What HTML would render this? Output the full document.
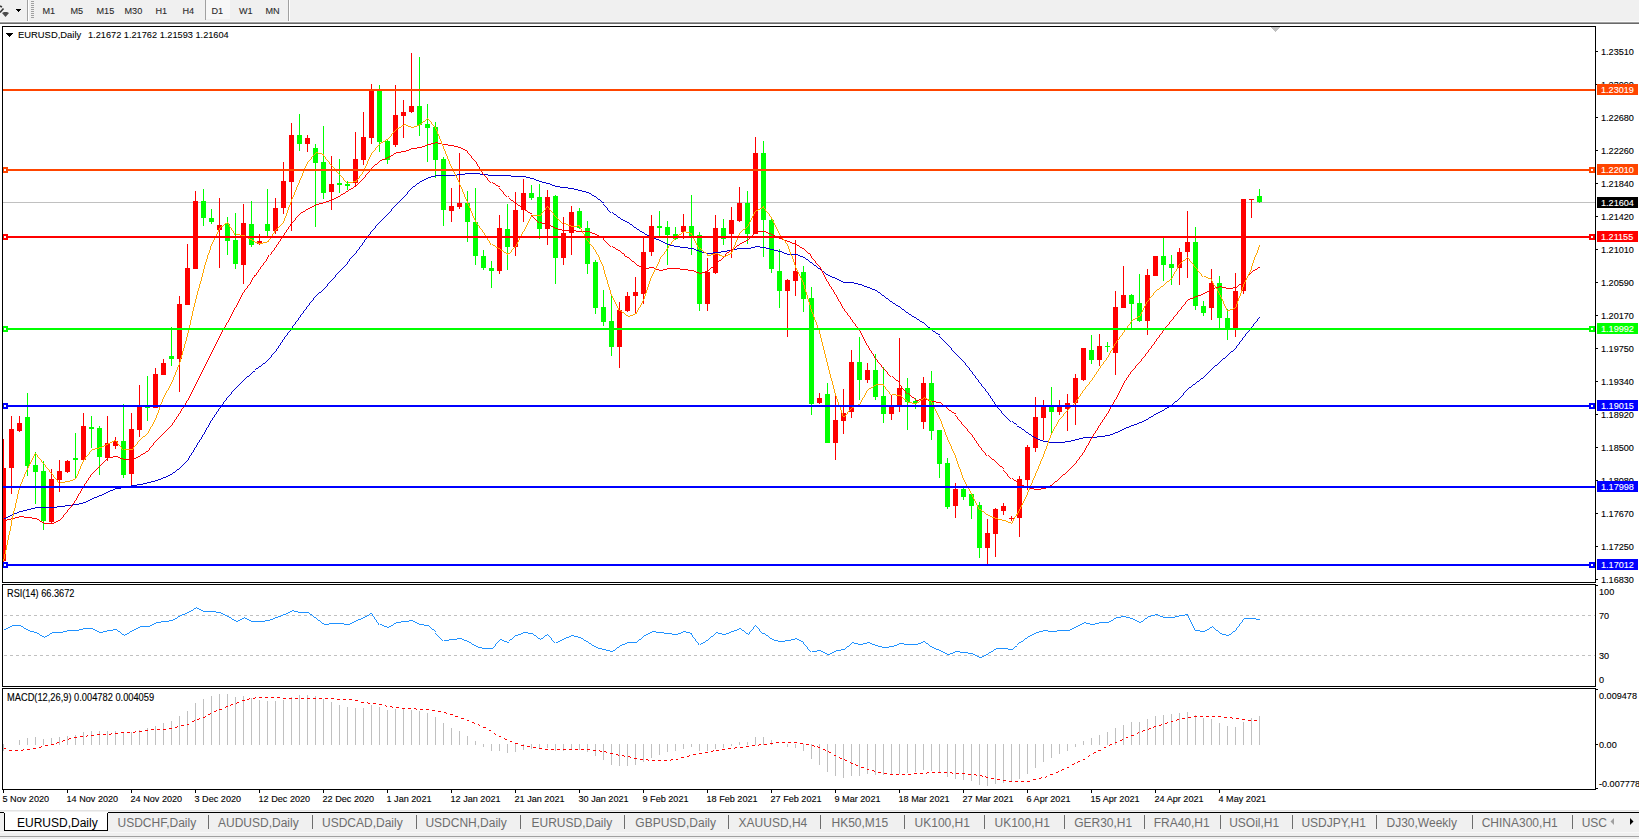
<!DOCTYPE html>
<html><head><meta charset="utf-8"><style>
html,body{margin:0;padding:0;width:1639px;height:839px;overflow:hidden;background:#fff}
svg{display:block;font-family:"Liberation Sans",sans-serif}
</style></head><body>
<svg width="1639" height="839" viewBox="0 0 1639 839" shape-rendering="crispEdges">
<rect x="0" y="0" width="1639" height="21" fill="#f0f0f0"/>
<rect x="0" y="21" width="1639" height="1" fill="#fafafa"/>
<rect x="0" y="22" width="1639" height="1" fill="#a0a0a0"/>
<rect x="0" y="23" width="1639" height="1" fill="#696969"/>
<rect x="0" y="24" width="1639" height="2" fill="#ffffff"/>
<path d="M0 6 L2 7 M3.5 8.5 L0 12.5" stroke="#3a3a3a" stroke-width="1.6" fill="none" shape-rendering="auto"/>
<path d="M2 13 L4 12 L7 12 L9 13 L5.5 17 Z" fill="#4a4a4a" shape-rendering="auto"/>
<path d="M16 9 L21 9 L18.5 12 Z" fill="#000"/>
<rect x="27" y="0" width="1" height="21" fill="#a0a0a0"/>
<rect x="28" y="0" width="1" height="21" fill="#ffffff"/>
<rect x="31" y="1" width="3" height="1" fill="#a0a0a0"/>
<rect x="31" y="3" width="3" height="1" fill="#a0a0a0"/>
<rect x="31" y="5" width="3" height="1" fill="#a0a0a0"/>
<rect x="31" y="7" width="3" height="1" fill="#a0a0a0"/>
<rect x="31" y="9" width="3" height="1" fill="#a0a0a0"/>
<rect x="31" y="11" width="3" height="1" fill="#a0a0a0"/>
<rect x="31" y="13" width="3" height="1" fill="#a0a0a0"/>
<rect x="31" y="15" width="3" height="1" fill="#a0a0a0"/>
<rect x="31" y="17" width="3" height="1" fill="#a0a0a0"/>
<rect x="206" y="0" width="24" height="19" fill="#f7f7f7"/>
<rect x="205" y="0" width="1" height="20" fill="#a0a0a0"/>
<rect x="288" y="0" width="1" height="21" fill="#a0a0a0"/>
<rect x="289" y="0" width="1" height="21" fill="#ffffff"/>
<text transform="translate(42.5 14) scale(0.93 1)" font-size="9.8" fill="#2a2a2a" stroke="#2a2a2a" stroke-width="0.1">M1</text>
<text transform="translate(70.5 14) scale(0.93 1)" font-size="9.8" fill="#2a2a2a" stroke="#2a2a2a" stroke-width="0.1">M5</text>
<text transform="translate(96.5 14) scale(0.93 1)" font-size="9.8" fill="#2a2a2a" stroke="#2a2a2a" stroke-width="0.1">M15</text>
<text transform="translate(124.5 14) scale(0.93 1)" font-size="9.8" fill="#2a2a2a" stroke="#2a2a2a" stroke-width="0.1">M30</text>
<text transform="translate(155.5 14) scale(0.93 1)" font-size="9.8" fill="#2a2a2a" stroke="#2a2a2a" stroke-width="0.1">H1</text>
<text transform="translate(182.5 14) scale(0.93 1)" font-size="9.8" fill="#2a2a2a" stroke="#2a2a2a" stroke-width="0.1">H4</text>
<text transform="translate(211.5 14) scale(0.93 1)" font-size="9.8" fill="#2a2a2a" stroke="#2a2a2a" stroke-width="0.1">D1</text>
<text transform="translate(239 14) scale(0.93 1)" font-size="9.8" fill="#2a2a2a" stroke="#2a2a2a" stroke-width="0.1">W1</text>
<text transform="translate(265.5 14) scale(0.93 1)" font-size="9.8" fill="#2a2a2a" stroke="#2a2a2a" stroke-width="0.1">MN</text>
<rect x="0" y="26" width="1639" height="785" fill="#ffffff"/>
<rect x="2" y="26" width="1594" height="1" fill="#000"/>
<rect x="2" y="26" width="1" height="557" fill="#000"/>
<rect x="1595" y="26" width="1" height="557" fill="#000"/>
<rect x="2" y="582" width="1594" height="1" fill="#000"/>
<rect x="2" y="584" width="1594" height="1" fill="#000"/>
<rect x="2" y="584" width="1" height="103" fill="#000"/>
<rect x="1595" y="584" width="1" height="103" fill="#000"/>
<rect x="2" y="686" width="1594" height="1" fill="#000"/>
<rect x="2" y="688" width="1594" height="1" fill="#000"/>
<rect x="2" y="688" width="1" height="102" fill="#000"/>
<rect x="1595" y="688" width="1" height="102" fill="#000"/>
<rect x="2" y="789" width="1594" height="1" fill="#000"/>
<path d="M1271 27 L1280 27 L1275.5 32 Z" fill="#c0c0c0"/>
<clipPath id="cm"><rect x="3" y="27" width="1592" height="555"/></clipPath>
<g clip-path="url(#cm)">
<rect x="3" y="202" width="1592" height="1" fill="#c0c0c0"/>
<rect x="3" y="439" width="1" height="124" fill="#ff0000"/>
<rect x="1" y="468" width="5" height="93" fill="#ff0000"/>
<rect x="11" y="416" width="1" height="78" fill="#ff0000"/>
<rect x="9" y="429" width="5" height="39" fill="#ff0000"/>
<rect x="19" y="416" width="1" height="16" fill="#ff0000"/>
<rect x="17" y="423" width="5" height="8" fill="#ff0000"/>
<rect x="27" y="393" width="1" height="83" fill="#00ff00"/>
<rect x="25" y="417" width="5" height="49" fill="#00ff00"/>
<rect x="35" y="452" width="1" height="52" fill="#00ff00"/>
<rect x="33" y="465" width="5" height="7" fill="#00ff00"/>
<rect x="43" y="461" width="1" height="69" fill="#00ff00"/>
<rect x="41" y="471" width="5" height="50" fill="#00ff00"/>
<rect x="51" y="469" width="1" height="54" fill="#ff0000"/>
<rect x="49" y="479" width="5" height="43" fill="#ff0000"/>
<rect x="59" y="460" width="1" height="32" fill="#ff0000"/>
<rect x="57" y="471" width="5" height="9" fill="#ff0000"/>
<rect x="67" y="460" width="1" height="13" fill="#ff0000"/>
<rect x="65" y="461" width="5" height="11" fill="#ff0000"/>
<rect x="75" y="433" width="1" height="45" fill="#00ff00"/>
<rect x="73" y="458" width="5" height="2" fill="#00ff00"/>
<rect x="83" y="413" width="1" height="47" fill="#ff0000"/>
<rect x="81" y="426" width="5" height="34" fill="#ff0000"/>
<rect x="91" y="416" width="1" height="32" fill="#00ff00"/>
<rect x="89" y="427" width="5" height="2" fill="#00ff00"/>
<rect x="99" y="426" width="1" height="49" fill="#00ff00"/>
<rect x="97" y="428" width="5" height="29" fill="#00ff00"/>
<rect x="107" y="416" width="1" height="45" fill="#ff0000"/>
<rect x="105" y="443" width="5" height="15" fill="#ff0000"/>
<rect x="115" y="437" width="1" height="12" fill="#ff0000"/>
<rect x="113" y="441" width="5" height="5" fill="#ff0000"/>
<rect x="123" y="404" width="1" height="74" fill="#00ff00"/>
<rect x="121" y="441" width="5" height="34" fill="#00ff00"/>
<rect x="131" y="413" width="1" height="72" fill="#ff0000"/>
<rect x="129" y="429" width="5" height="45" fill="#ff0000"/>
<rect x="139" y="385" width="1" height="52" fill="#ff0000"/>
<rect x="137" y="406" width="5" height="24" fill="#ff0000"/>
<rect x="147" y="376" width="1" height="45" fill="#00ff00"/>
<rect x="145" y="406" width="5" height="2" fill="#00ff00"/>
<rect x="155" y="368" width="1" height="40" fill="#ff0000"/>
<rect x="153" y="374" width="5" height="34" fill="#ff0000"/>
<rect x="163" y="359" width="1" height="16" fill="#ff0000"/>
<rect x="161" y="363" width="5" height="12" fill="#ff0000"/>
<rect x="171" y="327" width="1" height="39" fill="#00ff00"/>
<rect x="169" y="356" width="5" height="3" fill="#00ff00"/>
<rect x="179" y="296" width="1" height="96" fill="#ff0000"/>
<rect x="177" y="304" width="5" height="55" fill="#ff0000"/>
<rect x="187" y="244" width="1" height="61" fill="#ff0000"/>
<rect x="185" y="268" width="5" height="37" fill="#ff0000"/>
<rect x="195" y="191" width="1" height="78" fill="#ff0000"/>
<rect x="193" y="201" width="5" height="68" fill="#ff0000"/>
<rect x="203" y="189" width="1" height="37" fill="#00ff00"/>
<rect x="201" y="201" width="5" height="17" fill="#00ff00"/>
<rect x="211" y="209" width="1" height="15" fill="#00ff00"/>
<rect x="209" y="218" width="5" height="4" fill="#00ff00"/>
<rect x="219" y="198" width="1" height="70" fill="#ff0000"/>
<rect x="217" y="225" width="5" height="5" fill="#ff0000"/>
<rect x="227" y="217" width="1" height="38" fill="#00ff00"/>
<rect x="225" y="224" width="5" height="17" fill="#00ff00"/>
<rect x="235" y="213" width="1" height="56" fill="#00ff00"/>
<rect x="233" y="240" width="5" height="24" fill="#00ff00"/>
<rect x="243" y="204" width="1" height="80" fill="#ff0000"/>
<rect x="241" y="223" width="5" height="42" fill="#ff0000"/>
<rect x="251" y="201" width="1" height="46" fill="#00ff00"/>
<rect x="249" y="224" width="5" height="21" fill="#00ff00"/>
<rect x="259" y="234" width="1" height="11" fill="#ff0000"/>
<rect x="257" y="241" width="5" height="3" fill="#ff0000"/>
<rect x="267" y="189" width="1" height="49" fill="#00ff00"/>
<rect x="265" y="224" width="5" height="7" fill="#00ff00"/>
<rect x="275" y="198" width="1" height="36" fill="#ff0000"/>
<rect x="273" y="208" width="5" height="23" fill="#ff0000"/>
<rect x="283" y="162" width="1" height="52" fill="#ff0000"/>
<rect x="281" y="181" width="5" height="27" fill="#ff0000"/>
<rect x="291" y="123" width="1" height="108" fill="#ff0000"/>
<rect x="289" y="135" width="5" height="47" fill="#ff0000"/>
<rect x="299" y="114" width="1" height="37" fill="#00ff00"/>
<rect x="297" y="135" width="5" height="9" fill="#00ff00"/>
<rect x="307" y="135" width="1" height="17" fill="#ff0000"/>
<rect x="305" y="138" width="5" height="6" fill="#ff0000"/>
<rect x="315" y="144" width="1" height="83" fill="#00ff00"/>
<rect x="313" y="148" width="5" height="15" fill="#00ff00"/>
<rect x="323" y="126" width="1" height="73" fill="#00ff00"/>
<rect x="321" y="162" width="5" height="31" fill="#00ff00"/>
<rect x="331" y="156" width="1" height="54" fill="#ff0000"/>
<rect x="329" y="184" width="5" height="8" fill="#ff0000"/>
<rect x="339" y="159" width="1" height="34" fill="#00ff00"/>
<rect x="337" y="183" width="5" height="2" fill="#00ff00"/>
<rect x="347" y="181" width="1" height="9" fill="#00ff00"/>
<rect x="345" y="184" width="5" height="2" fill="#00ff00"/>
<rect x="355" y="132" width="1" height="55" fill="#ff0000"/>
<rect x="353" y="159" width="5" height="24" fill="#ff0000"/>
<rect x="363" y="112" width="1" height="53" fill="#ff0000"/>
<rect x="361" y="137" width="5" height="23" fill="#ff0000"/>
<rect x="371" y="84" width="1" height="60" fill="#ff0000"/>
<rect x="369" y="90" width="5" height="48" fill="#ff0000"/>
<rect x="379" y="85" width="1" height="67" fill="#00ff00"/>
<rect x="377" y="90" width="5" height="52" fill="#00ff00"/>
<rect x="387" y="139" width="1" height="25" fill="#00ff00"/>
<rect x="385" y="141" width="5" height="19" fill="#00ff00"/>
<rect x="395" y="85" width="1" height="62" fill="#ff0000"/>
<rect x="393" y="115" width="5" height="30" fill="#ff0000"/>
<rect x="403" y="100" width="1" height="38" fill="#ff0000"/>
<rect x="401" y="112" width="5" height="4" fill="#ff0000"/>
<rect x="411" y="53" width="1" height="60" fill="#ff0000"/>
<rect x="409" y="106" width="5" height="6" fill="#ff0000"/>
<rect x="419" y="57" width="1" height="79" fill="#00ff00"/>
<rect x="417" y="106" width="5" height="19" fill="#00ff00"/>
<rect x="427" y="104" width="1" height="58" fill="#00ff00"/>
<rect x="425" y="124" width="5" height="4" fill="#00ff00"/>
<rect x="435" y="122" width="1" height="56" fill="#00ff00"/>
<rect x="433" y="127" width="5" height="33" fill="#00ff00"/>
<rect x="443" y="157" width="1" height="69" fill="#00ff00"/>
<rect x="441" y="159" width="5" height="51" fill="#00ff00"/>
<rect x="451" y="188" width="1" height="34" fill="#ff0000"/>
<rect x="449" y="206" width="5" height="5" fill="#ff0000"/>
<rect x="459" y="153" width="1" height="56" fill="#ff0000"/>
<rect x="457" y="203" width="5" height="4" fill="#ff0000"/>
<rect x="467" y="191" width="1" height="51" fill="#00ff00"/>
<rect x="465" y="203" width="5" height="19" fill="#00ff00"/>
<rect x="475" y="188" width="1" height="77" fill="#00ff00"/>
<rect x="473" y="222" width="5" height="34" fill="#00ff00"/>
<rect x="483" y="250" width="1" height="20" fill="#00ff00"/>
<rect x="481" y="256" width="5" height="12" fill="#00ff00"/>
<rect x="491" y="261" width="1" height="27" fill="#00ff00"/>
<rect x="489" y="268" width="5" height="3" fill="#00ff00"/>
<rect x="499" y="215" width="1" height="59" fill="#ff0000"/>
<rect x="497" y="228" width="5" height="43" fill="#ff0000"/>
<rect x="507" y="204" width="1" height="66" fill="#00ff00"/>
<rect x="505" y="229" width="5" height="18" fill="#00ff00"/>
<rect x="515" y="192" width="1" height="64" fill="#ff0000"/>
<rect x="513" y="210" width="5" height="37" fill="#ff0000"/>
<rect x="523" y="179" width="1" height="43" fill="#ff0000"/>
<rect x="521" y="193" width="5" height="17" fill="#ff0000"/>
<rect x="531" y="185" width="1" height="15" fill="#00ff00"/>
<rect x="529" y="193" width="5" height="5" fill="#00ff00"/>
<rect x="539" y="184" width="1" height="55" fill="#00ff00"/>
<rect x="537" y="197" width="5" height="32" fill="#00ff00"/>
<rect x="547" y="190" width="1" height="55" fill="#ff0000"/>
<rect x="545" y="197" width="5" height="32" fill="#ff0000"/>
<rect x="555" y="195" width="1" height="89" fill="#00ff00"/>
<rect x="553" y="196" width="5" height="62" fill="#00ff00"/>
<rect x="563" y="217" width="1" height="48" fill="#ff0000"/>
<rect x="561" y="233" width="5" height="25" fill="#ff0000"/>
<rect x="571" y="206" width="1" height="49" fill="#ff0000"/>
<rect x="569" y="212" width="5" height="21" fill="#ff0000"/>
<rect x="579" y="208" width="1" height="21" fill="#00ff00"/>
<rect x="577" y="211" width="5" height="17" fill="#00ff00"/>
<rect x="587" y="221" width="1" height="53" fill="#00ff00"/>
<rect x="585" y="228" width="5" height="36" fill="#00ff00"/>
<rect x="595" y="260" width="1" height="54" fill="#00ff00"/>
<rect x="593" y="262" width="5" height="46" fill="#00ff00"/>
<rect x="603" y="290" width="1" height="36" fill="#00ff00"/>
<rect x="601" y="307" width="5" height="15" fill="#00ff00"/>
<rect x="611" y="295" width="1" height="61" fill="#00ff00"/>
<rect x="609" y="321" width="5" height="26" fill="#00ff00"/>
<rect x="619" y="302" width="1" height="66" fill="#ff0000"/>
<rect x="617" y="310" width="5" height="37" fill="#ff0000"/>
<rect x="627" y="292" width="1" height="20" fill="#ff0000"/>
<rect x="625" y="296" width="5" height="15" fill="#ff0000"/>
<rect x="635" y="277" width="1" height="37" fill="#ff0000"/>
<rect x="633" y="292" width="5" height="4" fill="#ff0000"/>
<rect x="643" y="237" width="1" height="67" fill="#ff0000"/>
<rect x="641" y="252" width="5" height="42" fill="#ff0000"/>
<rect x="651" y="215" width="1" height="41" fill="#ff0000"/>
<rect x="649" y="226" width="5" height="26" fill="#ff0000"/>
<rect x="659" y="211" width="1" height="26" fill="#00ff00"/>
<rect x="657" y="226" width="5" height="2" fill="#00ff00"/>
<rect x="667" y="221" width="1" height="44" fill="#00ff00"/>
<rect x="665" y="227" width="5" height="8" fill="#00ff00"/>
<rect x="675" y="227" width="1" height="13" fill="#00ff00"/>
<rect x="673" y="234" width="5" height="5" fill="#00ff00"/>
<rect x="683" y="214" width="1" height="25" fill="#ff0000"/>
<rect x="681" y="226" width="5" height="6" fill="#ff0000"/>
<rect x="691" y="195" width="1" height="60" fill="#00ff00"/>
<rect x="689" y="226" width="5" height="10" fill="#00ff00"/>
<rect x="699" y="232" width="1" height="79" fill="#00ff00"/>
<rect x="697" y="235" width="5" height="69" fill="#00ff00"/>
<rect x="707" y="258" width="1" height="53" fill="#ff0000"/>
<rect x="705" y="272" width="5" height="32" fill="#ff0000"/>
<rect x="715" y="215" width="1" height="59" fill="#ff0000"/>
<rect x="713" y="228" width="5" height="45" fill="#ff0000"/>
<rect x="723" y="219" width="1" height="26" fill="#00ff00"/>
<rect x="721" y="228" width="5" height="11" fill="#00ff00"/>
<rect x="731" y="207" width="1" height="51" fill="#ff0000"/>
<rect x="729" y="220" width="5" height="14" fill="#ff0000"/>
<rect x="739" y="187" width="1" height="35" fill="#ff0000"/>
<rect x="737" y="203" width="5" height="18" fill="#ff0000"/>
<rect x="747" y="191" width="1" height="53" fill="#00ff00"/>
<rect x="745" y="203" width="5" height="31" fill="#00ff00"/>
<rect x="755" y="137" width="1" height="97" fill="#ff0000"/>
<rect x="753" y="153" width="5" height="81" fill="#ff0000"/>
<rect x="763" y="141" width="1" height="116" fill="#00ff00"/>
<rect x="761" y="153" width="5" height="67" fill="#00ff00"/>
<rect x="771" y="219" width="1" height="54" fill="#00ff00"/>
<rect x="769" y="220" width="5" height="49" fill="#00ff00"/>
<rect x="779" y="249" width="1" height="59" fill="#00ff00"/>
<rect x="777" y="271" width="5" height="20" fill="#00ff00"/>
<rect x="787" y="279" width="1" height="58" fill="#ff0000"/>
<rect x="785" y="280" width="5" height="11" fill="#ff0000"/>
<rect x="795" y="240" width="1" height="56" fill="#ff0000"/>
<rect x="793" y="271" width="5" height="10" fill="#ff0000"/>
<rect x="803" y="266" width="1" height="46" fill="#00ff00"/>
<rect x="801" y="272" width="5" height="27" fill="#00ff00"/>
<rect x="811" y="287" width="1" height="128" fill="#00ff00"/>
<rect x="809" y="298" width="5" height="106" fill="#00ff00"/>
<rect x="819" y="393" width="1" height="11" fill="#ff0000"/>
<rect x="817" y="398" width="5" height="5" fill="#ff0000"/>
<rect x="827" y="383" width="1" height="60" fill="#00ff00"/>
<rect x="825" y="394" width="5" height="49" fill="#00ff00"/>
<rect x="835" y="396" width="1" height="64" fill="#ff0000"/>
<rect x="833" y="420" width="5" height="23" fill="#ff0000"/>
<rect x="843" y="389" width="1" height="45" fill="#ff0000"/>
<rect x="841" y="413" width="5" height="8" fill="#ff0000"/>
<rect x="851" y="350" width="1" height="68" fill="#ff0000"/>
<rect x="849" y="362" width="5" height="50" fill="#ff0000"/>
<rect x="859" y="337" width="1" height="63" fill="#00ff00"/>
<rect x="857" y="362" width="5" height="18" fill="#00ff00"/>
<rect x="867" y="363" width="1" height="20" fill="#ff0000"/>
<rect x="865" y="370" width="5" height="10" fill="#ff0000"/>
<rect x="875" y="354" width="1" height="46" fill="#00ff00"/>
<rect x="873" y="370" width="5" height="27" fill="#00ff00"/>
<rect x="883" y="367" width="1" height="56" fill="#00ff00"/>
<rect x="881" y="396" width="5" height="18" fill="#00ff00"/>
<rect x="891" y="395" width="1" height="25" fill="#ff0000"/>
<rect x="889" y="407" width="5" height="7" fill="#ff0000"/>
<rect x="899" y="338" width="1" height="74" fill="#ff0000"/>
<rect x="897" y="388" width="5" height="17" fill="#ff0000"/>
<rect x="907" y="378" width="1" height="52" fill="#00ff00"/>
<rect x="905" y="388" width="5" height="14" fill="#00ff00"/>
<rect x="915" y="398" width="1" height="11" fill="#00ff00"/>
<rect x="913" y="401" width="5" height="2" fill="#00ff00"/>
<rect x="923" y="377" width="1" height="52" fill="#ff0000"/>
<rect x="921" y="383" width="5" height="39" fill="#ff0000"/>
<rect x="931" y="371" width="1" height="69" fill="#00ff00"/>
<rect x="929" y="383" width="5" height="48" fill="#00ff00"/>
<rect x="939" y="430" width="1" height="48" fill="#00ff00"/>
<rect x="937" y="430" width="5" height="34" fill="#00ff00"/>
<rect x="947" y="458" width="1" height="51" fill="#00ff00"/>
<rect x="945" y="463" width="5" height="44" fill="#00ff00"/>
<rect x="955" y="483" width="1" height="35" fill="#ff0000"/>
<rect x="953" y="489" width="5" height="17" fill="#ff0000"/>
<rect x="963" y="487" width="1" height="13" fill="#00ff00"/>
<rect x="961" y="489" width="5" height="8" fill="#00ff00"/>
<rect x="971" y="493" width="1" height="26" fill="#00ff00"/>
<rect x="969" y="494" width="5" height="12" fill="#00ff00"/>
<rect x="979" y="502" width="1" height="56" fill="#00ff00"/>
<rect x="977" y="505" width="5" height="43" fill="#00ff00"/>
<rect x="987" y="519" width="1" height="45" fill="#ff0000"/>
<rect x="985" y="533" width="5" height="15" fill="#ff0000"/>
<rect x="995" y="508" width="1" height="49" fill="#ff0000"/>
<rect x="993" y="509" width="5" height="25" fill="#ff0000"/>
<rect x="1003" y="503" width="1" height="12" fill="#ff0000"/>
<rect x="1001" y="506" width="5" height="5" fill="#ff0000"/>
<rect x="1011" y="516" width="1" height="5" fill="#ff0000"/>
<rect x="1009" y="518" width="5" height="1" fill="#ff0000"/>
<rect x="1019" y="476" width="1" height="61" fill="#ff0000"/>
<rect x="1017" y="479" width="5" height="39" fill="#ff0000"/>
<rect x="1027" y="445" width="1" height="45" fill="#ff0000"/>
<rect x="1025" y="447" width="5" height="33" fill="#ff0000"/>
<rect x="1035" y="397" width="1" height="55" fill="#ff0000"/>
<rect x="1033" y="417" width="5" height="31" fill="#ff0000"/>
<rect x="1043" y="400" width="1" height="40" fill="#ff0000"/>
<rect x="1041" y="406" width="5" height="12" fill="#ff0000"/>
<rect x="1051" y="387" width="1" height="47" fill="#00ff00"/>
<rect x="1049" y="407" width="5" height="5" fill="#00ff00"/>
<rect x="1059" y="400" width="1" height="15" fill="#ff0000"/>
<rect x="1057" y="406" width="5" height="6" fill="#ff0000"/>
<rect x="1067" y="394" width="1" height="37" fill="#ff0000"/>
<rect x="1065" y="403" width="5" height="6" fill="#ff0000"/>
<rect x="1075" y="374" width="1" height="51" fill="#ff0000"/>
<rect x="1073" y="378" width="5" height="25" fill="#ff0000"/>
<rect x="1083" y="348" width="1" height="33" fill="#ff0000"/>
<rect x="1081" y="348" width="5" height="32" fill="#ff0000"/>
<rect x="1091" y="335" width="1" height="29" fill="#00ff00"/>
<rect x="1089" y="350" width="5" height="10" fill="#00ff00"/>
<rect x="1099" y="334" width="1" height="32" fill="#ff0000"/>
<rect x="1097" y="346" width="5" height="14" fill="#ff0000"/>
<rect x="1107" y="342" width="1" height="10" fill="#00ff00"/>
<rect x="1105" y="346" width="5" height="1" fill="#00ff00"/>
<rect x="1115" y="291" width="1" height="84" fill="#ff0000"/>
<rect x="1113" y="307" width="5" height="46" fill="#ff0000"/>
<rect x="1123" y="266" width="1" height="42" fill="#ff0000"/>
<rect x="1121" y="295" width="5" height="13" fill="#ff0000"/>
<rect x="1131" y="294" width="1" height="36" fill="#00ff00"/>
<rect x="1129" y="295" width="5" height="9" fill="#00ff00"/>
<rect x="1139" y="274" width="1" height="48" fill="#00ff00"/>
<rect x="1137" y="303" width="5" height="18" fill="#00ff00"/>
<rect x="1147" y="269" width="1" height="66" fill="#ff0000"/>
<rect x="1145" y="275" width="5" height="46" fill="#ff0000"/>
<rect x="1155" y="256" width="1" height="20" fill="#ff0000"/>
<rect x="1153" y="256" width="5" height="20" fill="#ff0000"/>
<rect x="1163" y="238" width="1" height="43" fill="#00ff00"/>
<rect x="1161" y="256" width="5" height="9" fill="#00ff00"/>
<rect x="1171" y="255" width="1" height="30" fill="#00ff00"/>
<rect x="1169" y="264" width="5" height="4" fill="#00ff00"/>
<rect x="1179" y="248" width="1" height="37" fill="#ff0000"/>
<rect x="1177" y="252" width="5" height="16" fill="#ff0000"/>
<rect x="1187" y="211" width="1" height="67" fill="#ff0000"/>
<rect x="1185" y="242" width="5" height="10" fill="#ff0000"/>
<rect x="1195" y="227" width="1" height="83" fill="#00ff00"/>
<rect x="1193" y="242" width="5" height="64" fill="#00ff00"/>
<rect x="1203" y="301" width="1" height="15" fill="#00ff00"/>
<rect x="1201" y="306" width="5" height="7" fill="#00ff00"/>
<rect x="1211" y="269" width="1" height="51" fill="#ff0000"/>
<rect x="1209" y="283" width="5" height="25" fill="#ff0000"/>
<rect x="1219" y="276" width="1" height="54" fill="#00ff00"/>
<rect x="1217" y="283" width="5" height="35" fill="#00ff00"/>
<rect x="1227" y="309" width="1" height="31" fill="#00ff00"/>
<rect x="1225" y="318" width="5" height="11" fill="#00ff00"/>
<rect x="1235" y="273" width="1" height="64" fill="#ff0000"/>
<rect x="1233" y="291" width="5" height="37" fill="#ff0000"/>
<rect x="1243" y="199" width="1" height="95" fill="#ff0000"/>
<rect x="1241" y="199" width="5" height="92" fill="#ff0000"/>
<rect x="1251" y="199" width="1" height="19" fill="#ff0000"/>
<rect x="1249" y="199" width="5" height="1" fill="#ff0000"/>
<rect x="1259" y="189" width="1" height="14" fill="#00ff00"/>
<rect x="1257" y="196" width="5" height="6" fill="#00ff00"/>
<polyline points="3.5,518.5 11.5,514.5 19.5,511.5 27.5,509.5 35.5,507.5 43.5,507.5 51.5,507.5 59.5,506.5 67.5,505.5 75.5,504.5 83.5,502.5 91.5,498.5 99.5,495.5 107.5,491.5 115.5,488.5 123.5,487.5 131.5,485.5 139.5,484.5 147.5,482.5 155.5,480.5 163.5,477.5 171.5,473.5 179.5,467.5 187.5,459.5 195.5,446.5 203.5,433.5 211.5,419.5 219.5,407.5 227.5,396.5 235.5,387.5 243.5,379.5 251.5,372.5 259.5,366.5 267.5,359.5 275.5,350.5 283.5,338.5 291.5,327.5 299.5,316.5 307.5,305.5 315.5,295.5 323.5,288.5 331.5,279.5 339.5,270.5 347.5,262.5 355.5,252.5 363.5,241.5 371.5,230.5 379.5,221.5 387.5,213.5 395.5,204.5 403.5,196.5 411.5,187.5 419.5,181.5 427.5,177.5 435.5,175.5 443.5,175.5 451.5,175.5 459.5,174.5 467.5,173.5 475.5,173.5 483.5,174.5 491.5,175.5 499.5,175.5 507.5,175.5 515.5,176.5 523.5,176.5 531.5,178.5 539.5,181.5 547.5,183.5 555.5,186.5 563.5,187.5 571.5,188.5 579.5,190.5 587.5,192.5 595.5,197.5 603.5,203.5 611.5,212.5 619.5,218.5 627.5,222.5 635.5,228.5 643.5,233.5 651.5,237.5 659.5,240.5 667.5,244.5 675.5,246.5 683.5,247.5 691.5,248.5 699.5,251.5 707.5,253.5 715.5,252.5 723.5,251.5 731.5,249.5 739.5,248.5 747.5,248.5 755.5,246.5 763.5,247.5 771.5,249.5 779.5,251.5 787.5,254.5 795.5,254.5 803.5,257.5 811.5,263.5 819.5,269.5 827.5,275.5 835.5,278.5 843.5,282.5 851.5,282.5 859.5,284.5 867.5,287.5 875.5,290.5 883.5,296.5 891.5,302.5 899.5,307.5 907.5,313.5 915.5,318.5 923.5,323.5 931.5,330.5 939.5,335.5 947.5,343.5 955.5,352.5 963.5,360.5 971.5,370.5 979.5,381.5 987.5,391.5 995.5,403.5 1003.5,413.5 1011.5,421.5 1019.5,427.5 1027.5,433.5 1035.5,438.5 1043.5,441.5 1051.5,442.5 1059.5,442.5 1067.5,441.5 1075.5,439.5 1083.5,437.5 1091.5,437.5 1099.5,436.5 1107.5,435.5 1115.5,432.5 1123.5,428.5 1131.5,425.5 1139.5,422.5 1147.5,418.5 1155.5,413.5 1163.5,409.5 1171.5,404.5 1179.5,397.5 1187.5,388.5 1195.5,382.5 1203.5,376.5 1211.5,368.5 1219.5,361.5 1227.5,354.5 1235.5,347.5 1243.5,336.5 1251.5,326.5 1259.5,316.5" fill="none" stroke="#0000cd" stroke-width="0.8"/>
<polyline points="3.5,518.5 11.5,514.5 19.5,511.5 27.5,509.5 35.5,507.5 43.5,507.5 51.5,507.5 59.5,506.5 67.5,505.5 75.5,504.5 83.5,502.5 91.5,498.5 99.5,495.5 107.5,491.5 115.5,488.5 123.5,487.5 131.5,485.5 139.5,484.5 147.5,482.5 155.5,480.5 163.5,477.5 171.5,473.5 179.5,467.5 187.5,459.5 195.5,446.5 203.5,433.5 211.5,419.5 219.5,407.5 227.5,396.5 235.5,387.5 243.5,379.5 251.5,372.5 259.5,366.5 267.5,359.5 275.5,350.5 283.5,338.5 291.5,327.5 299.5,316.5 307.5,305.5 315.5,295.5 323.5,288.5 331.5,279.5 339.5,270.5 347.5,262.5 355.5,252.5 363.5,241.5 371.5,230.5 379.5,221.5 387.5,213.5 395.5,204.5 403.5,196.5 411.5,187.5 419.5,181.5 427.5,177.5 435.5,175.5 443.5,175.5 451.5,175.5 459.5,174.5 467.5,173.5 475.5,173.5 483.5,174.5 491.5,175.5 499.5,175.5 507.5,175.5 515.5,176.5 523.5,176.5 531.5,178.5 539.5,181.5 547.5,183.5 555.5,186.5 563.5,187.5 571.5,188.5 579.5,190.5 587.5,192.5 595.5,197.5 603.5,203.5 611.5,212.5 619.5,218.5 627.5,222.5 635.5,228.5 643.5,233.5 651.5,237.5 659.5,240.5 667.5,244.5 675.5,246.5 683.5,247.5 691.5,248.5 699.5,251.5 707.5,253.5 715.5,252.5 723.5,251.5 731.5,249.5 739.5,248.5 747.5,248.5 755.5,246.5 763.5,247.5 771.5,249.5 779.5,251.5 787.5,254.5 795.5,254.5 803.5,257.5 811.5,263.5 819.5,269.5 827.5,275.5 835.5,278.5 843.5,282.5 851.5,282.5 859.5,284.5 867.5,287.5 875.5,290.5 883.5,296.5 891.5,302.5 899.5,307.5 907.5,313.5 915.5,318.5 923.5,323.5 931.5,330.5 939.5,335.5 947.5,343.5 955.5,352.5 963.5,360.5 971.5,370.5 979.5,381.5 987.5,391.5 995.5,403.5 1003.5,413.5 1011.5,421.5 1019.5,427.5 1027.5,433.5 1035.5,438.5 1043.5,441.5 1051.5,442.5 1059.5,442.5 1067.5,441.5 1075.5,439.5 1083.5,437.5 1091.5,437.5 1099.5,436.5 1107.5,435.5 1115.5,432.5 1123.5,428.5 1131.5,425.5 1139.5,422.5 1147.5,418.5 1155.5,413.5 1163.5,409.5 1171.5,404.5 1179.5,397.5 1187.5,388.5 1195.5,382.5 1203.5,376.5 1211.5,368.5 1219.5,361.5 1227.5,354.5 1235.5,347.5 1243.5,336.5 1251.5,326.5 1259.5,316.5" fill="none" stroke="#0000cd" stroke-width="0.8"/>
<polyline points="3.5,518.5 11.5,514.5 19.5,511.5 27.5,509.5 35.5,507.5 43.5,507.5 51.5,507.5 59.5,506.5 67.5,505.5 75.5,504.5 83.5,502.5 91.5,498.5 99.5,495.5 107.5,491.5 115.5,488.5 123.5,487.5 131.5,485.5 139.5,484.5 147.5,482.5 155.5,480.5 163.5,477.5 171.5,473.5 179.5,467.5 187.5,459.5 195.5,446.5 203.5,433.5 211.5,419.5 219.5,407.5 227.5,396.5 235.5,387.5 243.5,379.5 251.5,372.5 259.5,366.5 267.5,359.5 275.5,350.5 283.5,338.5 291.5,327.5 299.5,316.5 307.5,305.5 315.5,295.5 323.5,288.5 331.5,279.5 339.5,270.5 347.5,262.5 355.5,252.5 363.5,241.5 371.5,230.5 379.5,221.5 387.5,213.5 395.5,204.5 403.5,196.5 411.5,187.5 419.5,181.5 427.5,177.5 435.5,175.5 443.5,175.5 451.5,175.5 459.5,174.5 467.5,173.5 475.5,173.5 483.5,174.5 491.5,175.5 499.5,175.5 507.5,175.5 515.5,176.5 523.5,176.5 531.5,178.5 539.5,181.5 547.5,183.5 555.5,186.5 563.5,187.5 571.5,188.5 579.5,190.5 587.5,192.5 595.5,197.5 603.5,203.5 611.5,212.5 619.5,218.5 627.5,222.5 635.5,228.5 643.5,233.5 651.5,237.5 659.5,240.5 667.5,244.5 675.5,246.5 683.5,247.5 691.5,248.5 699.5,251.5 707.5,253.5 715.5,252.5 723.5,251.5 731.5,249.5 739.5,248.5 747.5,248.5 755.5,246.5 763.5,247.5 771.5,249.5 779.5,251.5 787.5,254.5 795.5,254.5 803.5,257.5 811.5,263.5 819.5,269.5 827.5,275.5 835.5,278.5 843.5,282.5 851.5,282.5 859.5,284.5 867.5,287.5 875.5,290.5 883.5,296.5 891.5,302.5 899.5,307.5 907.5,313.5 915.5,318.5 923.5,323.5 931.5,330.5 939.5,335.5 947.5,343.5 955.5,352.5 963.5,360.5 971.5,370.5 979.5,381.5 987.5,391.5 995.5,403.5 1003.5,413.5 1011.5,421.5 1019.5,427.5 1027.5,433.5 1035.5,438.5 1043.5,441.5 1051.5,442.5 1059.5,442.5 1067.5,441.5 1075.5,439.5 1083.5,437.5 1091.5,437.5 1099.5,436.5 1107.5,435.5 1115.5,432.5 1123.5,428.5 1131.5,425.5 1139.5,422.5 1147.5,418.5 1155.5,413.5 1163.5,409.5 1171.5,404.5 1179.5,397.5 1187.5,388.5 1195.5,382.5 1203.5,376.5 1211.5,368.5 1219.5,361.5 1227.5,354.5 1235.5,347.5 1243.5,336.5 1251.5,326.5 1259.5,316.5" fill="none" stroke="#0000cd" stroke-width="0.8"/>
<polyline points="3.5,520.5 11.5,518.5 19.5,516.5 27.5,517.5 35.5,518.5 43.5,523.5 51.5,523.5 59.5,519.5 67.5,510.5 75.5,499.5 83.5,485.5 91.5,473.5 99.5,465.5 107.5,457.5 115.5,456.5 123.5,459.5 131.5,459.5 139.5,455.5 147.5,450.5 155.5,440.5 163.5,432.5 171.5,424.5 179.5,412.5 187.5,399.5 195.5,383.5 203.5,368.5 211.5,351.5 219.5,335.5 227.5,321.5 235.5,306.5 243.5,291.5 251.5,280.5 259.5,268.5 267.5,257.5 275.5,246.5 283.5,234.5 291.5,222.5 299.5,213.5 307.5,208.5 315.5,204.5 323.5,202.5 331.5,199.5 339.5,195.5 347.5,190.5 355.5,185.5 363.5,177.5 371.5,167.5 379.5,160.5 387.5,157.5 395.5,152.5 403.5,151.5 411.5,148.5 419.5,147.5 427.5,144.5 435.5,142.5 443.5,144.5 451.5,145.5 459.5,147.5 467.5,151.5 475.5,160.5 483.5,173.5 491.5,182.5 499.5,187.5 507.5,196.5 515.5,203.5 523.5,209.5 531.5,214.5 539.5,222.5 547.5,224.5 555.5,228.5 563.5,230.5 571.5,230.5 579.5,231.5 587.5,231.5 595.5,234.5 603.5,238.5 611.5,246.5 619.5,251.5 627.5,257.5 635.5,264.5 643.5,268.5 651.5,267.5 659.5,270.5 667.5,268.5 675.5,268.5 683.5,269.5 691.5,270.5 699.5,273.5 707.5,270.5 715.5,263.5 723.5,256.5 731.5,249.5 739.5,243.5 747.5,239.5 755.5,231.5 763.5,231.5 771.5,234.5 779.5,238.5 787.5,241.5 795.5,244.5 803.5,249.5 811.5,256.5 819.5,265.5 827.5,280.5 835.5,293.5 843.5,307.5 851.5,318.5 859.5,329.5 867.5,344.5 875.5,357.5 883.5,367.5 891.5,376.5 899.5,383.5 907.5,393.5 915.5,400.5 923.5,398.5 931.5,401.5 939.5,402.5 947.5,409.5 955.5,414.5 963.5,424.5 971.5,433.5 979.5,445.5 987.5,455.5 995.5,462.5 1003.5,469.5 1011.5,478.5 1019.5,484.5 1027.5,487.5 1035.5,489.5 1043.5,488.5 1051.5,484.5 1059.5,477.5 1067.5,470.5 1075.5,462.5 1083.5,451.5 1091.5,437.5 1099.5,424.5 1107.5,412.5 1115.5,398.5 1123.5,382.5 1131.5,370.5 1139.5,361.5 1147.5,351.5 1155.5,340.5 1163.5,329.5 1171.5,319.5 1179.5,309.5 1187.5,299.5 1195.5,296.5 1203.5,293.5 1211.5,288.5 1219.5,286.5 1227.5,288.5 1235.5,287.5 1243.5,280.5 1251.5,271.5 1259.5,266.5" fill="none" stroke="#ff0000" stroke-width="0.8"/>
<polyline points="3.5,520.5 11.5,518.5 19.5,516.5 27.5,517.5 35.5,518.5 43.5,523.5 51.5,523.5 59.5,519.5 67.5,510.5 75.5,499.5 83.5,485.5 91.5,473.5 99.5,465.5 107.5,457.5 115.5,456.5 123.5,459.5 131.5,459.5 139.5,455.5 147.5,450.5 155.5,440.5 163.5,432.5 171.5,424.5 179.5,412.5 187.5,399.5 195.5,383.5 203.5,368.5 211.5,351.5 219.5,335.5 227.5,321.5 235.5,306.5 243.5,291.5 251.5,280.5 259.5,268.5 267.5,257.5 275.5,246.5 283.5,234.5 291.5,222.5 299.5,213.5 307.5,208.5 315.5,204.5 323.5,202.5 331.5,199.5 339.5,195.5 347.5,190.5 355.5,185.5 363.5,177.5 371.5,167.5 379.5,160.5 387.5,157.5 395.5,152.5 403.5,151.5 411.5,148.5 419.5,147.5 427.5,144.5 435.5,142.5 443.5,144.5 451.5,145.5 459.5,147.5 467.5,151.5 475.5,160.5 483.5,173.5 491.5,182.5 499.5,187.5 507.5,196.5 515.5,203.5 523.5,209.5 531.5,214.5 539.5,222.5 547.5,224.5 555.5,228.5 563.5,230.5 571.5,230.5 579.5,231.5 587.5,231.5 595.5,234.5 603.5,238.5 611.5,246.5 619.5,251.5 627.5,257.5 635.5,264.5 643.5,268.5 651.5,267.5 659.5,270.5 667.5,268.5 675.5,268.5 683.5,269.5 691.5,270.5 699.5,273.5 707.5,270.5 715.5,263.5 723.5,256.5 731.5,249.5 739.5,243.5 747.5,239.5 755.5,231.5 763.5,231.5 771.5,234.5 779.5,238.5 787.5,241.5 795.5,244.5 803.5,249.5 811.5,256.5 819.5,265.5 827.5,280.5 835.5,293.5 843.5,307.5 851.5,318.5 859.5,329.5 867.5,344.5 875.5,357.5 883.5,367.5 891.5,376.5 899.5,383.5 907.5,393.5 915.5,400.5 923.5,398.5 931.5,401.5 939.5,402.5 947.5,409.5 955.5,414.5 963.5,424.5 971.5,433.5 979.5,445.5 987.5,455.5 995.5,462.5 1003.5,469.5 1011.5,478.5 1019.5,484.5 1027.5,487.5 1035.5,489.5 1043.5,488.5 1051.5,484.5 1059.5,477.5 1067.5,470.5 1075.5,462.5 1083.5,451.5 1091.5,437.5 1099.5,424.5 1107.5,412.5 1115.5,398.5 1123.5,382.5 1131.5,370.5 1139.5,361.5 1147.5,351.5 1155.5,340.5 1163.5,329.5 1171.5,319.5 1179.5,309.5 1187.5,299.5 1195.5,296.5 1203.5,293.5 1211.5,288.5 1219.5,286.5 1227.5,288.5 1235.5,287.5 1243.5,280.5 1251.5,271.5 1259.5,266.5" fill="none" stroke="#ff0000" stroke-width="0.8"/>
<polyline points="3.5,520.5 11.5,518.5 19.5,516.5 27.5,517.5 35.5,518.5 43.5,523.5 51.5,523.5 59.5,519.5 67.5,510.5 75.5,499.5 83.5,485.5 91.5,473.5 99.5,465.5 107.5,457.5 115.5,456.5 123.5,459.5 131.5,459.5 139.5,455.5 147.5,450.5 155.5,440.5 163.5,432.5 171.5,424.5 179.5,412.5 187.5,399.5 195.5,383.5 203.5,368.5 211.5,351.5 219.5,335.5 227.5,321.5 235.5,306.5 243.5,291.5 251.5,280.5 259.5,268.5 267.5,257.5 275.5,246.5 283.5,234.5 291.5,222.5 299.5,213.5 307.5,208.5 315.5,204.5 323.5,202.5 331.5,199.5 339.5,195.5 347.5,190.5 355.5,185.5 363.5,177.5 371.5,167.5 379.5,160.5 387.5,157.5 395.5,152.5 403.5,151.5 411.5,148.5 419.5,147.5 427.5,144.5 435.5,142.5 443.5,144.5 451.5,145.5 459.5,147.5 467.5,151.5 475.5,160.5 483.5,173.5 491.5,182.5 499.5,187.5 507.5,196.5 515.5,203.5 523.5,209.5 531.5,214.5 539.5,222.5 547.5,224.5 555.5,228.5 563.5,230.5 571.5,230.5 579.5,231.5 587.5,231.5 595.5,234.5 603.5,238.5 611.5,246.5 619.5,251.5 627.5,257.5 635.5,264.5 643.5,268.5 651.5,267.5 659.5,270.5 667.5,268.5 675.5,268.5 683.5,269.5 691.5,270.5 699.5,273.5 707.5,270.5 715.5,263.5 723.5,256.5 731.5,249.5 739.5,243.5 747.5,239.5 755.5,231.5 763.5,231.5 771.5,234.5 779.5,238.5 787.5,241.5 795.5,244.5 803.5,249.5 811.5,256.5 819.5,265.5 827.5,280.5 835.5,293.5 843.5,307.5 851.5,318.5 859.5,329.5 867.5,344.5 875.5,357.5 883.5,367.5 891.5,376.5 899.5,383.5 907.5,393.5 915.5,400.5 923.5,398.5 931.5,401.5 939.5,402.5 947.5,409.5 955.5,414.5 963.5,424.5 971.5,433.5 979.5,445.5 987.5,455.5 995.5,462.5 1003.5,469.5 1011.5,478.5 1019.5,484.5 1027.5,487.5 1035.5,489.5 1043.5,488.5 1051.5,484.5 1059.5,477.5 1067.5,470.5 1075.5,462.5 1083.5,451.5 1091.5,437.5 1099.5,424.5 1107.5,412.5 1115.5,398.5 1123.5,382.5 1131.5,370.5 1139.5,361.5 1147.5,351.5 1155.5,340.5 1163.5,329.5 1171.5,319.5 1179.5,309.5 1187.5,299.5 1195.5,296.5 1203.5,293.5 1211.5,288.5 1219.5,286.5 1227.5,288.5 1235.5,287.5 1243.5,280.5 1251.5,271.5 1259.5,266.5" fill="none" stroke="#ff0000" stroke-width="0.8"/>
<polyline points="3.5,560.5 11.5,522.5 19.5,486.5 27.5,467.5 35.5,452.5 43.5,462.5 51.5,472.5 59.5,482.5 67.5,481.5 75.5,478.5 83.5,459.5 91.5,449.5 99.5,447.5 107.5,443.5 115.5,439.5 123.5,449.5 131.5,449.5 139.5,439.5 147.5,432.5 155.5,418.5 163.5,396.5 171.5,382.5 179.5,362.5 187.5,334.5 195.5,299.5 203.5,270.5 211.5,243.5 219.5,227.5 227.5,221.5 235.5,234.5 243.5,235.5 251.5,240.5 259.5,243.5 267.5,241.5 275.5,229.5 283.5,221.5 291.5,199.5 299.5,180.5 307.5,161.5 315.5,152.5 323.5,154.5 331.5,164.5 339.5,173.5 347.5,182.5 355.5,181.5 363.5,170.5 371.5,152.5 379.5,143.5 387.5,138.5 395.5,129.5 403.5,124.5 411.5,127.5 419.5,124.5 427.5,117.5 435.5,126.5 443.5,146.5 451.5,166.5 459.5,182.5 467.5,201.5 475.5,220.5 483.5,231.5 491.5,244.5 499.5,249.5 507.5,254.5 515.5,245.5 523.5,230.5 531.5,215.5 539.5,215.5 547.5,205.5 555.5,215.5 563.5,223.5 571.5,226.5 579.5,225.5 587.5,239.5 595.5,249.5 603.5,267.5 611.5,294.5 619.5,310.5 627.5,316.5 635.5,313.5 643.5,299.5 651.5,275.5 659.5,259.5 667.5,247.5 675.5,236.5 683.5,231.5 691.5,233.5 699.5,248.5 707.5,255.5 715.5,253.5 723.5,256.5 731.5,252.5 739.5,232.5 747.5,225.5 755.5,210.5 763.5,206.5 771.5,216.5 779.5,233.5 787.5,243.5 795.5,266.5 803.5,282.5 811.5,309.5 819.5,330.5 827.5,363.5 835.5,393.5 843.5,416.5 851.5,407.5 859.5,403.5 867.5,389.5 875.5,384.5 883.5,384.5 891.5,394.5 899.5,395.5 907.5,402.5 915.5,403.5 923.5,397.5 931.5,401.5 939.5,416.5 947.5,437.5 955.5,455.5 963.5,478.5 971.5,492.5 979.5,509.5 987.5,515.5 995.5,518.5 1003.5,520.5 1011.5,523.5 1019.5,509.5 1027.5,492.5 1035.5,473.5 1043.5,454.5 1051.5,432.5 1059.5,418.5 1067.5,409.5 1075.5,401.5 1083.5,389.5 1091.5,379.5 1099.5,367.5 1107.5,356.5 1115.5,342.5 1123.5,331.5 1131.5,320.5 1139.5,315.5 1147.5,300.5 1155.5,290.5 1163.5,284.5 1171.5,277.5 1179.5,263.5 1187.5,256.5 1195.5,266.5 1203.5,276.5 1211.5,279.5 1219.5,292.5 1227.5,310.5 1235.5,307.5 1243.5,284.5 1251.5,267.5 1259.5,244.5" fill="none" stroke="#ffa500" stroke-width="0.8"/>
<polyline points="3.5,560.5 11.5,522.5 19.5,486.5 27.5,467.5 35.5,452.5 43.5,462.5 51.5,472.5 59.5,482.5 67.5,481.5 75.5,478.5 83.5,459.5 91.5,449.5 99.5,447.5 107.5,443.5 115.5,439.5 123.5,449.5 131.5,449.5 139.5,439.5 147.5,432.5 155.5,418.5 163.5,396.5 171.5,382.5 179.5,362.5 187.5,334.5 195.5,299.5 203.5,270.5 211.5,243.5 219.5,227.5 227.5,221.5 235.5,234.5 243.5,235.5 251.5,240.5 259.5,243.5 267.5,241.5 275.5,229.5 283.5,221.5 291.5,199.5 299.5,180.5 307.5,161.5 315.5,152.5 323.5,154.5 331.5,164.5 339.5,173.5 347.5,182.5 355.5,181.5 363.5,170.5 371.5,152.5 379.5,143.5 387.5,138.5 395.5,129.5 403.5,124.5 411.5,127.5 419.5,124.5 427.5,117.5 435.5,126.5 443.5,146.5 451.5,166.5 459.5,182.5 467.5,201.5 475.5,220.5 483.5,231.5 491.5,244.5 499.5,249.5 507.5,254.5 515.5,245.5 523.5,230.5 531.5,215.5 539.5,215.5 547.5,205.5 555.5,215.5 563.5,223.5 571.5,226.5 579.5,225.5 587.5,239.5 595.5,249.5 603.5,267.5 611.5,294.5 619.5,310.5 627.5,316.5 635.5,313.5 643.5,299.5 651.5,275.5 659.5,259.5 667.5,247.5 675.5,236.5 683.5,231.5 691.5,233.5 699.5,248.5 707.5,255.5 715.5,253.5 723.5,256.5 731.5,252.5 739.5,232.5 747.5,225.5 755.5,210.5 763.5,206.5 771.5,216.5 779.5,233.5 787.5,243.5 795.5,266.5 803.5,282.5 811.5,309.5 819.5,330.5 827.5,363.5 835.5,393.5 843.5,416.5 851.5,407.5 859.5,403.5 867.5,389.5 875.5,384.5 883.5,384.5 891.5,394.5 899.5,395.5 907.5,402.5 915.5,403.5 923.5,397.5 931.5,401.5 939.5,416.5 947.5,437.5 955.5,455.5 963.5,478.5 971.5,492.5 979.5,509.5 987.5,515.5 995.5,518.5 1003.5,520.5 1011.5,523.5 1019.5,509.5 1027.5,492.5 1035.5,473.5 1043.5,454.5 1051.5,432.5 1059.5,418.5 1067.5,409.5 1075.5,401.5 1083.5,389.5 1091.5,379.5 1099.5,367.5 1107.5,356.5 1115.5,342.5 1123.5,331.5 1131.5,320.5 1139.5,315.5 1147.5,300.5 1155.5,290.5 1163.5,284.5 1171.5,277.5 1179.5,263.5 1187.5,256.5 1195.5,266.5 1203.5,276.5 1211.5,279.5 1219.5,292.5 1227.5,310.5 1235.5,307.5 1243.5,284.5 1251.5,267.5 1259.5,244.5" fill="none" stroke="#ffa500" stroke-width="0.8"/>
<polyline points="3.5,560.5 11.5,522.5 19.5,486.5 27.5,467.5 35.5,452.5 43.5,462.5 51.5,472.5 59.5,482.5 67.5,481.5 75.5,478.5 83.5,459.5 91.5,449.5 99.5,447.5 107.5,443.5 115.5,439.5 123.5,449.5 131.5,449.5 139.5,439.5 147.5,432.5 155.5,418.5 163.5,396.5 171.5,382.5 179.5,362.5 187.5,334.5 195.5,299.5 203.5,270.5 211.5,243.5 219.5,227.5 227.5,221.5 235.5,234.5 243.5,235.5 251.5,240.5 259.5,243.5 267.5,241.5 275.5,229.5 283.5,221.5 291.5,199.5 299.5,180.5 307.5,161.5 315.5,152.5 323.5,154.5 331.5,164.5 339.5,173.5 347.5,182.5 355.5,181.5 363.5,170.5 371.5,152.5 379.5,143.5 387.5,138.5 395.5,129.5 403.5,124.5 411.5,127.5 419.5,124.5 427.5,117.5 435.5,126.5 443.5,146.5 451.5,166.5 459.5,182.5 467.5,201.5 475.5,220.5 483.5,231.5 491.5,244.5 499.5,249.5 507.5,254.5 515.5,245.5 523.5,230.5 531.5,215.5 539.5,215.5 547.5,205.5 555.5,215.5 563.5,223.5 571.5,226.5 579.5,225.5 587.5,239.5 595.5,249.5 603.5,267.5 611.5,294.5 619.5,310.5 627.5,316.5 635.5,313.5 643.5,299.5 651.5,275.5 659.5,259.5 667.5,247.5 675.5,236.5 683.5,231.5 691.5,233.5 699.5,248.5 707.5,255.5 715.5,253.5 723.5,256.5 731.5,252.5 739.5,232.5 747.5,225.5 755.5,210.5 763.5,206.5 771.5,216.5 779.5,233.5 787.5,243.5 795.5,266.5 803.5,282.5 811.5,309.5 819.5,330.5 827.5,363.5 835.5,393.5 843.5,416.5 851.5,407.5 859.5,403.5 867.5,389.5 875.5,384.5 883.5,384.5 891.5,394.5 899.5,395.5 907.5,402.5 915.5,403.5 923.5,397.5 931.5,401.5 939.5,416.5 947.5,437.5 955.5,455.5 963.5,478.5 971.5,492.5 979.5,509.5 987.5,515.5 995.5,518.5 1003.5,520.5 1011.5,523.5 1019.5,509.5 1027.5,492.5 1035.5,473.5 1043.5,454.5 1051.5,432.5 1059.5,418.5 1067.5,409.5 1075.5,401.5 1083.5,389.5 1091.5,379.5 1099.5,367.5 1107.5,356.5 1115.5,342.5 1123.5,331.5 1131.5,320.5 1139.5,315.5 1147.5,300.5 1155.5,290.5 1163.5,284.5 1171.5,277.5 1179.5,263.5 1187.5,256.5 1195.5,266.5 1203.5,276.5 1211.5,279.5 1219.5,292.5 1227.5,310.5 1235.5,307.5 1243.5,284.5 1251.5,267.5 1259.5,244.5" fill="none" stroke="#ffa500" stroke-width="0.8"/>
<rect x="3" y="89" width="1592" height="2" fill="#ff4500"/>
<rect x="3" y="169" width="1592" height="2" fill="#ff4500"/>
<rect x="2" y="167" width="6" height="6" fill="#ff4500"/>
<rect x="4" y="169" width="2" height="2" fill="#ffffff"/>
<rect x="1589" y="167" width="6" height="6" fill="#ff4500"/>
<rect x="1591" y="169" width="2" height="2" fill="#ffffff"/>
<rect x="3" y="236" width="1592" height="2" fill="#ff0000"/>
<rect x="2" y="234" width="6" height="6" fill="#ff0000"/>
<rect x="4" y="236" width="2" height="2" fill="#ffffff"/>
<rect x="1589" y="234" width="6" height="6" fill="#ff0000"/>
<rect x="1591" y="236" width="2" height="2" fill="#ffffff"/>
<rect x="3" y="328" width="1592" height="2" fill="#00ff00"/>
<rect x="2" y="326" width="6" height="6" fill="#00ff00"/>
<rect x="4" y="328" width="2" height="2" fill="#ffffff"/>
<rect x="1589" y="326" width="6" height="6" fill="#00ff00"/>
<rect x="1591" y="328" width="2" height="2" fill="#ffffff"/>
<rect x="3" y="405" width="1592" height="2" fill="#0000ff"/>
<rect x="2" y="403" width="6" height="6" fill="#0000ff"/>
<rect x="4" y="405" width="2" height="2" fill="#ffffff"/>
<rect x="1589" y="403" width="6" height="6" fill="#0000ff"/>
<rect x="1591" y="405" width="2" height="2" fill="#ffffff"/>
<rect x="3" y="486" width="1592" height="2" fill="#0000ff"/>
<rect x="3" y="564" width="1592" height="2" fill="#0000ff"/>
<rect x="2" y="562" width="6" height="6" fill="#0000ff"/>
<rect x="4" y="564" width="2" height="2" fill="#ffffff"/>
<rect x="1589" y="562" width="6" height="6" fill="#0000ff"/>
<rect x="1591" y="564" width="2" height="2" fill="#ffffff"/>
</g>
<path d="M6 33 L13 33 L9.5 37 Z" fill="#000"/>
<text transform="translate(18 38) scale(0.96 1)" font-size="9.8" fill="#000" stroke="#000" stroke-width="0.08">EURUSD,Daily</text>
<text transform="translate(88 38) scale(0.94 1)" font-size="9.8" fill="#000" stroke="#000" stroke-width="0.08">1.21672 1.21762 1.21593 1.21604</text>
<rect x="1596" y="51" width="2" height="1" fill="#000"/>
<text transform="translate(1601 55) scale(0.93 1)" font-size="9.8" fill="#000" stroke="#000" stroke-width="0.12">1.23510</text>
<rect x="1596" y="84" width="2" height="1" fill="#000"/>
<text transform="translate(1601 88) scale(0.93 1)" font-size="9.8" fill="#000" stroke="#000" stroke-width="0.12">1.23090</text>
<rect x="1596" y="117" width="2" height="1" fill="#000"/>
<text transform="translate(1601 121) scale(0.93 1)" font-size="9.8" fill="#000" stroke="#000" stroke-width="0.12">1.22680</text>
<rect x="1596" y="150" width="2" height="1" fill="#000"/>
<text transform="translate(1601 154) scale(0.93 1)" font-size="9.8" fill="#000" stroke="#000" stroke-width="0.12">1.22260</text>
<rect x="1596" y="183" width="2" height="1" fill="#000"/>
<text transform="translate(1601 187) scale(0.93 1)" font-size="9.8" fill="#000" stroke="#000" stroke-width="0.12">1.21840</text>
<rect x="1596" y="216" width="2" height="1" fill="#000"/>
<text transform="translate(1601 220) scale(0.93 1)" font-size="9.8" fill="#000" stroke="#000" stroke-width="0.12">1.21420</text>
<rect x="1596" y="249" width="2" height="1" fill="#000"/>
<text transform="translate(1601 253) scale(0.93 1)" font-size="9.8" fill="#000" stroke="#000" stroke-width="0.12">1.21010</text>
<rect x="1596" y="282" width="2" height="1" fill="#000"/>
<text transform="translate(1601 286) scale(0.93 1)" font-size="9.8" fill="#000" stroke="#000" stroke-width="0.12">1.20590</text>
<rect x="1596" y="315" width="2" height="1" fill="#000"/>
<text transform="translate(1601 319) scale(0.93 1)" font-size="9.8" fill="#000" stroke="#000" stroke-width="0.12">1.20170</text>
<rect x="1596" y="348" width="2" height="1" fill="#000"/>
<text transform="translate(1601 352) scale(0.93 1)" font-size="9.8" fill="#000" stroke="#000" stroke-width="0.12">1.19750</text>
<rect x="1596" y="381" width="2" height="1" fill="#000"/>
<text transform="translate(1601 385) scale(0.93 1)" font-size="9.8" fill="#000" stroke="#000" stroke-width="0.12">1.19340</text>
<rect x="1596" y="414" width="2" height="1" fill="#000"/>
<text transform="translate(1601 418) scale(0.93 1)" font-size="9.8" fill="#000" stroke="#000" stroke-width="0.12">1.18920</text>
<rect x="1596" y="447" width="2" height="1" fill="#000"/>
<text transform="translate(1601 451) scale(0.93 1)" font-size="9.8" fill="#000" stroke="#000" stroke-width="0.12">1.18500</text>
<rect x="1596" y="480" width="2" height="1" fill="#000"/>
<text transform="translate(1601 484) scale(0.93 1)" font-size="9.8" fill="#000" stroke="#000" stroke-width="0.12">1.18080</text>
<rect x="1596" y="513" width="2" height="1" fill="#000"/>
<text transform="translate(1601 517) scale(0.93 1)" font-size="9.8" fill="#000" stroke="#000" stroke-width="0.12">1.17670</text>
<rect x="1596" y="546" width="2" height="1" fill="#000"/>
<text transform="translate(1601 550) scale(0.93 1)" font-size="9.8" fill="#000" stroke="#000" stroke-width="0.12">1.17250</text>
<rect x="1596" y="579" width="2" height="1" fill="#000"/>
<text transform="translate(1601 583) scale(0.93 1)" font-size="9.8" fill="#000" stroke="#000" stroke-width="0.12">1.16830</text>
<rect x="1597" y="84" width="41" height="11" fill="#ff4500"/>
<text transform="translate(1601 93) scale(0.93 1)" font-size="9.8" fill="#fff" stroke="#fff" stroke-width="0.12">1.23019</text>
<rect x="1597" y="164" width="41" height="11" fill="#ff4500"/>
<text transform="translate(1601 173) scale(0.93 1)" font-size="9.8" fill="#fff" stroke="#fff" stroke-width="0.12">1.22010</text>
<rect x="1597" y="197" width="41" height="11" fill="#000000"/>
<text transform="translate(1601 206) scale(0.93 1)" font-size="9.8" fill="#fff" stroke="#fff" stroke-width="0.12">1.21604</text>
<rect x="1597" y="231" width="41" height="11" fill="#ff0000"/>
<text transform="translate(1601 240) scale(0.93 1)" font-size="9.8" fill="#fff" stroke="#fff" stroke-width="0.12">1.21155</text>
<rect x="1597" y="323" width="41" height="11" fill="#00ff00"/>
<text transform="translate(1601 332) scale(0.93 1)" font-size="9.8" fill="#fff" stroke="#fff" stroke-width="0.12">1.19992</text>
<rect x="1597" y="400" width="41" height="11" fill="#0000ff"/>
<text transform="translate(1601 409) scale(0.93 1)" font-size="9.8" fill="#fff" stroke="#fff" stroke-width="0.12">1.19015</text>
<rect x="1597" y="481" width="41" height="11" fill="#0000ff"/>
<text transform="translate(1601 490) scale(0.93 1)" font-size="9.8" fill="#fff" stroke="#fff" stroke-width="0.12">1.17998</text>
<rect x="1597" y="559" width="41" height="11" fill="#0000ff"/>
<text transform="translate(1601 568) scale(0.93 1)" font-size="9.8" fill="#fff" stroke="#fff" stroke-width="0.12">1.17012</text>
<clipPath id="cr"><rect x="3" y="585" width="1592" height="101"/></clipPath>
<g clip-path="url(#cr)">
<line x1="4" y1="615.5" x2="1595" y2="615.5" stroke="#c0c0c0" stroke-width="1" stroke-dasharray="3,3"/>
<line x1="4" y1="655.5" x2="1595" y2="655.5" stroke="#c0c0c0" stroke-width="1" stroke-dasharray="3,3"/>
<polyline points="3.5,629.5 11.5,625.5 19.5,625.5 27.5,630.5 35.5,632.5 43.5,637.5 51.5,632.5 59.5,632.5 67.5,630.5 75.5,630.5 83.5,628.5 91.5,628.5 99.5,632.5 107.5,630.5 115.5,629.5 123.5,635.5 131.5,630.5 139.5,626.5 147.5,626.5 155.5,622.5 163.5,621.5 171.5,620.5 179.5,615.5 187.5,612.5 195.5,607.5 203.5,611.5 211.5,611.5 219.5,612.5 227.5,616.5 235.5,621.5 243.5,617.5 251.5,621.5 259.5,621.5 267.5,620.5 275.5,617.5 283.5,614.5 291.5,610.5 299.5,612.5 307.5,612.5 315.5,618.5 323.5,624.5 331.5,623.5 339.5,623.5 347.5,624.5 355.5,620.5 363.5,617.5 371.5,612.5 379.5,624.5 387.5,627.5 395.5,622.5 403.5,621.5 411.5,620.5 419.5,624.5 427.5,625.5 435.5,632.5 443.5,640.5 451.5,639.5 459.5,638.5 467.5,641.5 475.5,646.5 483.5,648.5 491.5,648.5 499.5,639.5 507.5,642.5 515.5,635.5 523.5,632.5 531.5,633.5 539.5,639.5 547.5,633.5 555.5,642.5 563.5,638.5 571.5,635.5 579.5,637.5 587.5,642.5 595.5,647.5 603.5,649.5 611.5,651.5 619.5,645.5 627.5,642.5 635.5,642.5 643.5,635.5 651.5,631.5 659.5,632.5 667.5,633.5 675.5,634.5 683.5,631.5 691.5,633.5 699.5,644.5 707.5,639.5 715.5,632.5 723.5,634.5 731.5,631.5 739.5,628.5 747.5,634.5 755.5,624.5 763.5,633.5 771.5,639.5 779.5,641.5 787.5,640.5 795.5,638.5 803.5,642.5 811.5,651.5 819.5,650.5 827.5,654.5 835.5,650.5 843.5,649.5 851.5,642.5 859.5,644.5 867.5,642.5 875.5,645.5 883.5,647.5 891.5,646.5 899.5,643.5 907.5,644.5 915.5,644.5 923.5,641.5 931.5,647.5 939.5,650.5 947.5,654.5 955.5,651.5 963.5,652.5 971.5,653.5 979.5,657.5 987.5,653.5 995.5,648.5 1003.5,648.5 1011.5,649.5 1019.5,642.5 1027.5,636.5 1035.5,632.5 1043.5,630.5 1051.5,631.5 1059.5,630.5 1067.5,630.5 1075.5,626.5 1083.5,622.5 1091.5,624.5 1099.5,622.5 1107.5,622.5 1115.5,617.5 1123.5,616.5 1131.5,618.5 1139.5,622.5 1147.5,616.5 1155.5,614.5 1163.5,617.5 1171.5,617.5 1179.5,615.5 1187.5,614.5 1195.5,630.5 1203.5,631.5 1211.5,626.5 1219.5,633.5 1227.5,635.5 1235.5,629.5 1243.5,618.5 1251.5,618.5 1259.5,619.5" fill="none" stroke="#1e90ff" stroke-width="0.8"/>
<polyline points="3.5,629.5 11.5,625.5 19.5,625.5 27.5,630.5 35.5,632.5 43.5,637.5 51.5,632.5 59.5,632.5 67.5,630.5 75.5,630.5 83.5,628.5 91.5,628.5 99.5,632.5 107.5,630.5 115.5,629.5 123.5,635.5 131.5,630.5 139.5,626.5 147.5,626.5 155.5,622.5 163.5,621.5 171.5,620.5 179.5,615.5 187.5,612.5 195.5,607.5 203.5,611.5 211.5,611.5 219.5,612.5 227.5,616.5 235.5,621.5 243.5,617.5 251.5,621.5 259.5,621.5 267.5,620.5 275.5,617.5 283.5,614.5 291.5,610.5 299.5,612.5 307.5,612.5 315.5,618.5 323.5,624.5 331.5,623.5 339.5,623.5 347.5,624.5 355.5,620.5 363.5,617.5 371.5,612.5 379.5,624.5 387.5,627.5 395.5,622.5 403.5,621.5 411.5,620.5 419.5,624.5 427.5,625.5 435.5,632.5 443.5,640.5 451.5,639.5 459.5,638.5 467.5,641.5 475.5,646.5 483.5,648.5 491.5,648.5 499.5,639.5 507.5,642.5 515.5,635.5 523.5,632.5 531.5,633.5 539.5,639.5 547.5,633.5 555.5,642.5 563.5,638.5 571.5,635.5 579.5,637.5 587.5,642.5 595.5,647.5 603.5,649.5 611.5,651.5 619.5,645.5 627.5,642.5 635.5,642.5 643.5,635.5 651.5,631.5 659.5,632.5 667.5,633.5 675.5,634.5 683.5,631.5 691.5,633.5 699.5,644.5 707.5,639.5 715.5,632.5 723.5,634.5 731.5,631.5 739.5,628.5 747.5,634.5 755.5,624.5 763.5,633.5 771.5,639.5 779.5,641.5 787.5,640.5 795.5,638.5 803.5,642.5 811.5,651.5 819.5,650.5 827.5,654.5 835.5,650.5 843.5,649.5 851.5,642.5 859.5,644.5 867.5,642.5 875.5,645.5 883.5,647.5 891.5,646.5 899.5,643.5 907.5,644.5 915.5,644.5 923.5,641.5 931.5,647.5 939.5,650.5 947.5,654.5 955.5,651.5 963.5,652.5 971.5,653.5 979.5,657.5 987.5,653.5 995.5,648.5 1003.5,648.5 1011.5,649.5 1019.5,642.5 1027.5,636.5 1035.5,632.5 1043.5,630.5 1051.5,631.5 1059.5,630.5 1067.5,630.5 1075.5,626.5 1083.5,622.5 1091.5,624.5 1099.5,622.5 1107.5,622.5 1115.5,617.5 1123.5,616.5 1131.5,618.5 1139.5,622.5 1147.5,616.5 1155.5,614.5 1163.5,617.5 1171.5,617.5 1179.5,615.5 1187.5,614.5 1195.5,630.5 1203.5,631.5 1211.5,626.5 1219.5,633.5 1227.5,635.5 1235.5,629.5 1243.5,618.5 1251.5,618.5 1259.5,619.5" fill="none" stroke="#1e90ff" stroke-width="0.8"/>
<polyline points="3.5,629.5 11.5,625.5 19.5,625.5 27.5,630.5 35.5,632.5 43.5,637.5 51.5,632.5 59.5,632.5 67.5,630.5 75.5,630.5 83.5,628.5 91.5,628.5 99.5,632.5 107.5,630.5 115.5,629.5 123.5,635.5 131.5,630.5 139.5,626.5 147.5,626.5 155.5,622.5 163.5,621.5 171.5,620.5 179.5,615.5 187.5,612.5 195.5,607.5 203.5,611.5 211.5,611.5 219.5,612.5 227.5,616.5 235.5,621.5 243.5,617.5 251.5,621.5 259.5,621.5 267.5,620.5 275.5,617.5 283.5,614.5 291.5,610.5 299.5,612.5 307.5,612.5 315.5,618.5 323.5,624.5 331.5,623.5 339.5,623.5 347.5,624.5 355.5,620.5 363.5,617.5 371.5,612.5 379.5,624.5 387.5,627.5 395.5,622.5 403.5,621.5 411.5,620.5 419.5,624.5 427.5,625.5 435.5,632.5 443.5,640.5 451.5,639.5 459.5,638.5 467.5,641.5 475.5,646.5 483.5,648.5 491.5,648.5 499.5,639.5 507.5,642.5 515.5,635.5 523.5,632.5 531.5,633.5 539.5,639.5 547.5,633.5 555.5,642.5 563.5,638.5 571.5,635.5 579.5,637.5 587.5,642.5 595.5,647.5 603.5,649.5 611.5,651.5 619.5,645.5 627.5,642.5 635.5,642.5 643.5,635.5 651.5,631.5 659.5,632.5 667.5,633.5 675.5,634.5 683.5,631.5 691.5,633.5 699.5,644.5 707.5,639.5 715.5,632.5 723.5,634.5 731.5,631.5 739.5,628.5 747.5,634.5 755.5,624.5 763.5,633.5 771.5,639.5 779.5,641.5 787.5,640.5 795.5,638.5 803.5,642.5 811.5,651.5 819.5,650.5 827.5,654.5 835.5,650.5 843.5,649.5 851.5,642.5 859.5,644.5 867.5,642.5 875.5,645.5 883.5,647.5 891.5,646.5 899.5,643.5 907.5,644.5 915.5,644.5 923.5,641.5 931.5,647.5 939.5,650.5 947.5,654.5 955.5,651.5 963.5,652.5 971.5,653.5 979.5,657.5 987.5,653.5 995.5,648.5 1003.5,648.5 1011.5,649.5 1019.5,642.5 1027.5,636.5 1035.5,632.5 1043.5,630.5 1051.5,631.5 1059.5,630.5 1067.5,630.5 1075.5,626.5 1083.5,622.5 1091.5,624.5 1099.5,622.5 1107.5,622.5 1115.5,617.5 1123.5,616.5 1131.5,618.5 1139.5,622.5 1147.5,616.5 1155.5,614.5 1163.5,617.5 1171.5,617.5 1179.5,615.5 1187.5,614.5 1195.5,630.5 1203.5,631.5 1211.5,626.5 1219.5,633.5 1227.5,635.5 1235.5,629.5 1243.5,618.5 1251.5,618.5 1259.5,619.5" fill="none" stroke="#1e90ff" stroke-width="0.8"/>
</g>
<text transform="translate(7 597) scale(0.92 1)" font-size="10" fill="#000" stroke="#000" stroke-width="0.12">RSI(14) 66.3672</text>
<text transform="translate(1599 594.9) scale(0.93 1)" font-size="9.8" fill="#000" stroke="#000" stroke-width="0.12">100</text>
<text transform="translate(1599 618.9) scale(0.93 1)" font-size="9.8" fill="#000" stroke="#000" stroke-width="0.12">70</text>
<text transform="translate(1599 658.8) scale(0.93 1)" font-size="9.8" fill="#000" stroke="#000" stroke-width="0.12">30</text>
<text transform="translate(1599 682.8) scale(0.93 1)" font-size="9.8" fill="#000" stroke="#000" stroke-width="0.12">0</text>
<clipPath id="cd"><rect x="3" y="689" width="1592" height="100"/></clipPath>
<g clip-path="url(#cd)">
<rect x="3" y="744" width="1" height="7" fill="#c0c0c0"/>
<rect x="19" y="740" width="1" height="5" fill="#c0c0c0"/>
<rect x="27" y="738" width="1" height="7" fill="#c0c0c0"/>
<rect x="35" y="737" width="1" height="8" fill="#c0c0c0"/>
<rect x="43" y="739" width="1" height="6" fill="#c0c0c0"/>
<rect x="51" y="738" width="1" height="7" fill="#c0c0c0"/>
<rect x="59" y="737" width="1" height="8" fill="#c0c0c0"/>
<rect x="67" y="736" width="1" height="9" fill="#c0c0c0"/>
<rect x="75" y="735" width="1" height="10" fill="#c0c0c0"/>
<rect x="83" y="732" width="1" height="13" fill="#c0c0c0"/>
<rect x="91" y="731" width="1" height="14" fill="#c0c0c0"/>
<rect x="99" y="731" width="1" height="14" fill="#c0c0c0"/>
<rect x="107" y="731" width="1" height="14" fill="#c0c0c0"/>
<rect x="115" y="731" width="1" height="14" fill="#c0c0c0"/>
<rect x="123" y="733" width="1" height="12" fill="#c0c0c0"/>
<rect x="131" y="732" width="1" height="13" fill="#c0c0c0"/>
<rect x="139" y="730" width="1" height="15" fill="#c0c0c0"/>
<rect x="147" y="728" width="1" height="17" fill="#c0c0c0"/>
<rect x="155" y="726" width="1" height="19" fill="#c0c0c0"/>
<rect x="163" y="723" width="1" height="22" fill="#c0c0c0"/>
<rect x="171" y="721" width="1" height="24" fill="#c0c0c0"/>
<rect x="179" y="716" width="1" height="29" fill="#c0c0c0"/>
<rect x="187" y="711" width="1" height="34" fill="#c0c0c0"/>
<rect x="195" y="703" width="1" height="42" fill="#c0c0c0"/>
<rect x="203" y="699" width="1" height="46" fill="#c0c0c0"/>
<rect x="211" y="696" width="1" height="49" fill="#c0c0c0"/>
<rect x="219" y="694" width="1" height="51" fill="#c0c0c0"/>
<rect x="227" y="694" width="1" height="51" fill="#c0c0c0"/>
<rect x="235" y="697" width="1" height="48" fill="#c0c0c0"/>
<rect x="243" y="696" width="1" height="49" fill="#c0c0c0"/>
<rect x="251" y="698" width="1" height="47" fill="#c0c0c0"/>
<rect x="259" y="700" width="1" height="45" fill="#c0c0c0"/>
<rect x="267" y="701" width="1" height="44" fill="#c0c0c0"/>
<rect x="275" y="701" width="1" height="44" fill="#c0c0c0"/>
<rect x="283" y="700" width="1" height="45" fill="#c0c0c0"/>
<rect x="291" y="697" width="1" height="48" fill="#c0c0c0"/>
<rect x="299" y="695" width="1" height="50" fill="#c0c0c0"/>
<rect x="307" y="695" width="1" height="50" fill="#c0c0c0"/>
<rect x="315" y="696" width="1" height="49" fill="#c0c0c0"/>
<rect x="323" y="699" width="1" height="46" fill="#c0c0c0"/>
<rect x="331" y="702" width="1" height="43" fill="#c0c0c0"/>
<rect x="339" y="705" width="1" height="40" fill="#c0c0c0"/>
<rect x="347" y="707" width="1" height="38" fill="#c0c0c0"/>
<rect x="355" y="708" width="1" height="37" fill="#c0c0c0"/>
<rect x="363" y="708" width="1" height="37" fill="#c0c0c0"/>
<rect x="371" y="705" width="1" height="40" fill="#c0c0c0"/>
<rect x="379" y="707" width="1" height="38" fill="#c0c0c0"/>
<rect x="387" y="710" width="1" height="35" fill="#c0c0c0"/>
<rect x="395" y="709" width="1" height="36" fill="#c0c0c0"/>
<rect x="403" y="709" width="1" height="36" fill="#c0c0c0"/>
<rect x="411" y="710" width="1" height="35" fill="#c0c0c0"/>
<rect x="419" y="711" width="1" height="34" fill="#c0c0c0"/>
<rect x="427" y="713" width="1" height="32" fill="#c0c0c0"/>
<rect x="435" y="717" width="1" height="28" fill="#c0c0c0"/>
<rect x="443" y="723" width="1" height="22" fill="#c0c0c0"/>
<rect x="451" y="728" width="1" height="17" fill="#c0c0c0"/>
<rect x="459" y="731" width="1" height="14" fill="#c0c0c0"/>
<rect x="467" y="736" width="1" height="9" fill="#c0c0c0"/>
<rect x="475" y="741" width="1" height="4" fill="#c0c0c0"/>
<rect x="483" y="744" width="1" height="3" fill="#c0c0c0"/>
<rect x="491" y="744" width="1" height="7" fill="#c0c0c0"/>
<rect x="499" y="744" width="1" height="7" fill="#c0c0c0"/>
<rect x="507" y="744" width="1" height="9" fill="#c0c0c0"/>
<rect x="515" y="744" width="1" height="8" fill="#c0c0c0"/>
<rect x="523" y="744" width="1" height="6" fill="#c0c0c0"/>
<rect x="531" y="744" width="1" height="5" fill="#c0c0c0"/>
<rect x="539" y="744" width="1" height="5" fill="#c0c0c0"/>
<rect x="547" y="744" width="1" height="4" fill="#c0c0c0"/>
<rect x="555" y="744" width="1" height="7" fill="#c0c0c0"/>
<rect x="563" y="744" width="1" height="7" fill="#c0c0c0"/>
<rect x="571" y="744" width="1" height="6" fill="#c0c0c0"/>
<rect x="579" y="744" width="1" height="6" fill="#c0c0c0"/>
<rect x="587" y="744" width="1" height="8" fill="#c0c0c0"/>
<rect x="595" y="744" width="1" height="12" fill="#c0c0c0"/>
<rect x="603" y="744" width="1" height="16" fill="#c0c0c0"/>
<rect x="611" y="744" width="1" height="21" fill="#c0c0c0"/>
<rect x="619" y="744" width="1" height="22" fill="#c0c0c0"/>
<rect x="627" y="744" width="1" height="22" fill="#c0c0c0"/>
<rect x="635" y="744" width="1" height="21" fill="#c0c0c0"/>
<rect x="643" y="744" width="1" height="18" fill="#c0c0c0"/>
<rect x="651" y="744" width="1" height="14" fill="#c0c0c0"/>
<rect x="659" y="744" width="1" height="11" fill="#c0c0c0"/>
<rect x="667" y="744" width="1" height="8" fill="#c0c0c0"/>
<rect x="675" y="744" width="1" height="7" fill="#c0c0c0"/>
<rect x="683" y="744" width="1" height="5" fill="#c0c0c0"/>
<rect x="691" y="744" width="1" height="3" fill="#c0c0c0"/>
<rect x="699" y="744" width="1" height="7" fill="#c0c0c0"/>
<rect x="707" y="744" width="1" height="7" fill="#c0c0c0"/>
<rect x="715" y="744" width="1" height="5" fill="#c0c0c0"/>
<rect x="723" y="744" width="1" height="4" fill="#c0c0c0"/>
<rect x="731" y="744" width="1" height="2" fill="#c0c0c0"/>
<rect x="739" y="742" width="1" height="3" fill="#c0c0c0"/>
<rect x="747" y="742" width="1" height="3" fill="#c0c0c0"/>
<rect x="755" y="737" width="1" height="8" fill="#c0c0c0"/>
<rect x="763" y="737" width="1" height="8" fill="#c0c0c0"/>
<rect x="771" y="740" width="1" height="5" fill="#c0c0c0"/>
<rect x="787" y="744" width="1" height="3" fill="#c0c0c0"/>
<rect x="795" y="744" width="1" height="4" fill="#c0c0c0"/>
<rect x="803" y="744" width="1" height="7" fill="#c0c0c0"/>
<rect x="811" y="744" width="1" height="15" fill="#c0c0c0"/>
<rect x="819" y="744" width="1" height="21" fill="#c0c0c0"/>
<rect x="827" y="744" width="1" height="28" fill="#c0c0c0"/>
<rect x="835" y="744" width="1" height="32" fill="#c0c0c0"/>
<rect x="843" y="744" width="1" height="34" fill="#c0c0c0"/>
<rect x="851" y="744" width="1" height="32" fill="#c0c0c0"/>
<rect x="859" y="744" width="1" height="32" fill="#c0c0c0"/>
<rect x="867" y="744" width="1" height="30" fill="#c0c0c0"/>
<rect x="875" y="744" width="1" height="31" fill="#c0c0c0"/>
<rect x="883" y="744" width="1" height="31" fill="#c0c0c0"/>
<rect x="891" y="744" width="1" height="31" fill="#c0c0c0"/>
<rect x="899" y="744" width="1" height="30" fill="#c0c0c0"/>
<rect x="907" y="744" width="1" height="29" fill="#c0c0c0"/>
<rect x="915" y="744" width="1" height="28" fill="#c0c0c0"/>
<rect x="923" y="744" width="1" height="26" fill="#c0c0c0"/>
<rect x="931" y="744" width="1" height="27" fill="#c0c0c0"/>
<rect x="939" y="744" width="1" height="29" fill="#c0c0c0"/>
<rect x="947" y="744" width="1" height="33" fill="#c0c0c0"/>
<rect x="955" y="744" width="1" height="35" fill="#c0c0c0"/>
<rect x="963" y="744" width="1" height="36" fill="#c0c0c0"/>
<rect x="971" y="744" width="1" height="37" fill="#c0c0c0"/>
<rect x="979" y="744" width="1" height="41" fill="#c0c0c0"/>
<rect x="987" y="744" width="1" height="42" fill="#c0c0c0"/>
<rect x="995" y="744" width="1" height="40" fill="#c0c0c0"/>
<rect x="1003" y="744" width="1" height="39" fill="#c0c0c0"/>
<rect x="1011" y="744" width="1" height="38" fill="#c0c0c0"/>
<rect x="1019" y="744" width="1" height="35" fill="#c0c0c0"/>
<rect x="1027" y="744" width="1" height="30" fill="#c0c0c0"/>
<rect x="1035" y="744" width="1" height="24" fill="#c0c0c0"/>
<rect x="1043" y="744" width="1" height="18" fill="#c0c0c0"/>
<rect x="1051" y="744" width="1" height="14" fill="#c0c0c0"/>
<rect x="1059" y="744" width="1" height="10" fill="#c0c0c0"/>
<rect x="1067" y="744" width="1" height="7" fill="#c0c0c0"/>
<rect x="1075" y="744" width="1" height="3" fill="#c0c0c0"/>
<rect x="1083" y="741" width="1" height="4" fill="#c0c0c0"/>
<rect x="1091" y="738" width="1" height="7" fill="#c0c0c0"/>
<rect x="1099" y="735" width="1" height="10" fill="#c0c0c0"/>
<rect x="1107" y="732" width="1" height="13" fill="#c0c0c0"/>
<rect x="1115" y="728" width="1" height="17" fill="#c0c0c0"/>
<rect x="1123" y="725" width="1" height="20" fill="#c0c0c0"/>
<rect x="1131" y="722" width="1" height="23" fill="#c0c0c0"/>
<rect x="1139" y="722" width="1" height="23" fill="#c0c0c0"/>
<rect x="1147" y="719" width="1" height="26" fill="#c0c0c0"/>
<rect x="1155" y="716" width="1" height="29" fill="#c0c0c0"/>
<rect x="1163" y="715" width="1" height="30" fill="#c0c0c0"/>
<rect x="1171" y="714" width="1" height="31" fill="#c0c0c0"/>
<rect x="1179" y="713" width="1" height="32" fill="#c0c0c0"/>
<rect x="1187" y="712" width="1" height="33" fill="#c0c0c0"/>
<rect x="1195" y="715" width="1" height="30" fill="#c0c0c0"/>
<rect x="1203" y="718" width="1" height="27" fill="#c0c0c0"/>
<rect x="1211" y="719" width="1" height="26" fill="#c0c0c0"/>
<rect x="1219" y="723" width="1" height="22" fill="#c0c0c0"/>
<rect x="1227" y="726" width="1" height="19" fill="#c0c0c0"/>
<rect x="1235" y="727" width="1" height="18" fill="#c0c0c0"/>
<rect x="1243" y="722" width="1" height="23" fill="#c0c0c0"/>
<rect x="1251" y="718" width="1" height="27" fill="#c0c0c0"/>
<rect x="1259" y="716" width="1" height="29" fill="#c0c0c0"/>
<polyline points="3.5,748.5 11.5,750.5 19.5,750.5 27.5,749.5 35.5,748.5 43.5,746.5 51.5,744.5 59.5,742.5 67.5,739.5 75.5,737.5 83.5,736.5 91.5,735.5 99.5,734.5 107.5,734.5 115.5,733.5 123.5,732.5 131.5,732.5 139.5,731.5 147.5,730.5 155.5,729.5 163.5,729.5 171.5,728.5 179.5,726.5 187.5,724.5 195.5,720.5 203.5,717.5 211.5,713.5 219.5,709.5 227.5,706.5 235.5,703.5 243.5,700.5 251.5,698.5 259.5,697.5 267.5,697.5 275.5,697.5 283.5,698.5 291.5,698.5 299.5,698.5 307.5,698.5 315.5,698.5 323.5,698.5 331.5,698.5 339.5,699.5 347.5,699.5 355.5,700.5 363.5,702.5 371.5,703.5 379.5,704.5 387.5,706.5 395.5,707.5 403.5,708.5 411.5,708.5 419.5,709.5 427.5,709.5 435.5,710.5 443.5,712.5 451.5,714.5 459.5,717.5 467.5,720.5 475.5,723.5 483.5,727.5 491.5,731.5 499.5,736.5 507.5,740.5 515.5,743.5 523.5,745.5 531.5,747.5 539.5,748.5 547.5,749.5 555.5,749.5 563.5,749.5 571.5,749.5 579.5,749.5 587.5,749.5 595.5,750.5 603.5,751.5 611.5,753.5 619.5,755.5 627.5,756.5 635.5,758.5 643.5,759.5 651.5,760.5 659.5,760.5 667.5,760.5 675.5,759.5 683.5,757.5 691.5,755.5 699.5,753.5 707.5,752.5 715.5,750.5 723.5,749.5 731.5,748.5 739.5,747.5 747.5,746.5 755.5,745.5 763.5,744.5 771.5,743.5 779.5,742.5 787.5,742.5 795.5,742.5 803.5,743.5 811.5,745.5 819.5,747.5 827.5,751.5 835.5,755.5 843.5,759.5 851.5,763.5 859.5,766.5 867.5,769.5 875.5,771.5 883.5,773.5 891.5,774.5 899.5,774.5 907.5,774.5 915.5,773.5 923.5,773.5 931.5,772.5 939.5,772.5 947.5,772.5 955.5,773.5 963.5,773.5 971.5,774.5 979.5,775.5 987.5,777.5 995.5,779.5 1003.5,780.5 1011.5,781.5 1019.5,781.5 1027.5,781.5 1035.5,779.5 1043.5,777.5 1051.5,774.5 1059.5,771.5 1067.5,767.5 1075.5,763.5 1083.5,759.5 1091.5,754.5 1099.5,750.5 1107.5,746.5 1115.5,742.5 1123.5,739.5 1131.5,735.5 1139.5,732.5 1147.5,729.5 1155.5,726.5 1163.5,724.5 1171.5,721.5 1179.5,719.5 1187.5,717.5 1195.5,716.5 1203.5,716.5 1211.5,716.5 1219.5,716.5 1227.5,717.5 1235.5,718.5 1243.5,719.5 1251.5,720.5 1259.5,720.5" fill="none" stroke="#ff0000" stroke-width="0.8" stroke-dasharray="3,3"/>
<polyline points="3.5,748.5 11.5,750.5 19.5,750.5 27.5,749.5 35.5,748.5 43.5,746.5 51.5,744.5 59.5,742.5 67.5,739.5 75.5,737.5 83.5,736.5 91.5,735.5 99.5,734.5 107.5,734.5 115.5,733.5 123.5,732.5 131.5,732.5 139.5,731.5 147.5,730.5 155.5,729.5 163.5,729.5 171.5,728.5 179.5,726.5 187.5,724.5 195.5,720.5 203.5,717.5 211.5,713.5 219.5,709.5 227.5,706.5 235.5,703.5 243.5,700.5 251.5,698.5 259.5,697.5 267.5,697.5 275.5,697.5 283.5,698.5 291.5,698.5 299.5,698.5 307.5,698.5 315.5,698.5 323.5,698.5 331.5,698.5 339.5,699.5 347.5,699.5 355.5,700.5 363.5,702.5 371.5,703.5 379.5,704.5 387.5,706.5 395.5,707.5 403.5,708.5 411.5,708.5 419.5,709.5 427.5,709.5 435.5,710.5 443.5,712.5 451.5,714.5 459.5,717.5 467.5,720.5 475.5,723.5 483.5,727.5 491.5,731.5 499.5,736.5 507.5,740.5 515.5,743.5 523.5,745.5 531.5,747.5 539.5,748.5 547.5,749.5 555.5,749.5 563.5,749.5 571.5,749.5 579.5,749.5 587.5,749.5 595.5,750.5 603.5,751.5 611.5,753.5 619.5,755.5 627.5,756.5 635.5,758.5 643.5,759.5 651.5,760.5 659.5,760.5 667.5,760.5 675.5,759.5 683.5,757.5 691.5,755.5 699.5,753.5 707.5,752.5 715.5,750.5 723.5,749.5 731.5,748.5 739.5,747.5 747.5,746.5 755.5,745.5 763.5,744.5 771.5,743.5 779.5,742.5 787.5,742.5 795.5,742.5 803.5,743.5 811.5,745.5 819.5,747.5 827.5,751.5 835.5,755.5 843.5,759.5 851.5,763.5 859.5,766.5 867.5,769.5 875.5,771.5 883.5,773.5 891.5,774.5 899.5,774.5 907.5,774.5 915.5,773.5 923.5,773.5 931.5,772.5 939.5,772.5 947.5,772.5 955.5,773.5 963.5,773.5 971.5,774.5 979.5,775.5 987.5,777.5 995.5,779.5 1003.5,780.5 1011.5,781.5 1019.5,781.5 1027.5,781.5 1035.5,779.5 1043.5,777.5 1051.5,774.5 1059.5,771.5 1067.5,767.5 1075.5,763.5 1083.5,759.5 1091.5,754.5 1099.5,750.5 1107.5,746.5 1115.5,742.5 1123.5,739.5 1131.5,735.5 1139.5,732.5 1147.5,729.5 1155.5,726.5 1163.5,724.5 1171.5,721.5 1179.5,719.5 1187.5,717.5 1195.5,716.5 1203.5,716.5 1211.5,716.5 1219.5,716.5 1227.5,717.5 1235.5,718.5 1243.5,719.5 1251.5,720.5 1259.5,720.5" fill="none" stroke="#ff0000" stroke-width="0.8" stroke-dasharray="3,3"/>
<polyline points="3.5,748.5 11.5,750.5 19.5,750.5 27.5,749.5 35.5,748.5 43.5,746.5 51.5,744.5 59.5,742.5 67.5,739.5 75.5,737.5 83.5,736.5 91.5,735.5 99.5,734.5 107.5,734.5 115.5,733.5 123.5,732.5 131.5,732.5 139.5,731.5 147.5,730.5 155.5,729.5 163.5,729.5 171.5,728.5 179.5,726.5 187.5,724.5 195.5,720.5 203.5,717.5 211.5,713.5 219.5,709.5 227.5,706.5 235.5,703.5 243.5,700.5 251.5,698.5 259.5,697.5 267.5,697.5 275.5,697.5 283.5,698.5 291.5,698.5 299.5,698.5 307.5,698.5 315.5,698.5 323.5,698.5 331.5,698.5 339.5,699.5 347.5,699.5 355.5,700.5 363.5,702.5 371.5,703.5 379.5,704.5 387.5,706.5 395.5,707.5 403.5,708.5 411.5,708.5 419.5,709.5 427.5,709.5 435.5,710.5 443.5,712.5 451.5,714.5 459.5,717.5 467.5,720.5 475.5,723.5 483.5,727.5 491.5,731.5 499.5,736.5 507.5,740.5 515.5,743.5 523.5,745.5 531.5,747.5 539.5,748.5 547.5,749.5 555.5,749.5 563.5,749.5 571.5,749.5 579.5,749.5 587.5,749.5 595.5,750.5 603.5,751.5 611.5,753.5 619.5,755.5 627.5,756.5 635.5,758.5 643.5,759.5 651.5,760.5 659.5,760.5 667.5,760.5 675.5,759.5 683.5,757.5 691.5,755.5 699.5,753.5 707.5,752.5 715.5,750.5 723.5,749.5 731.5,748.5 739.5,747.5 747.5,746.5 755.5,745.5 763.5,744.5 771.5,743.5 779.5,742.5 787.5,742.5 795.5,742.5 803.5,743.5 811.5,745.5 819.5,747.5 827.5,751.5 835.5,755.5 843.5,759.5 851.5,763.5 859.5,766.5 867.5,769.5 875.5,771.5 883.5,773.5 891.5,774.5 899.5,774.5 907.5,774.5 915.5,773.5 923.5,773.5 931.5,772.5 939.5,772.5 947.5,772.5 955.5,773.5 963.5,773.5 971.5,774.5 979.5,775.5 987.5,777.5 995.5,779.5 1003.5,780.5 1011.5,781.5 1019.5,781.5 1027.5,781.5 1035.5,779.5 1043.5,777.5 1051.5,774.5 1059.5,771.5 1067.5,767.5 1075.5,763.5 1083.5,759.5 1091.5,754.5 1099.5,750.5 1107.5,746.5 1115.5,742.5 1123.5,739.5 1131.5,735.5 1139.5,732.5 1147.5,729.5 1155.5,726.5 1163.5,724.5 1171.5,721.5 1179.5,719.5 1187.5,717.5 1195.5,716.5 1203.5,716.5 1211.5,716.5 1219.5,716.5 1227.5,717.5 1235.5,718.5 1243.5,719.5 1251.5,720.5 1259.5,720.5" fill="none" stroke="#ff0000" stroke-width="0.8" stroke-dasharray="3,3"/>
</g>
<text transform="translate(7 701) scale(0.93 1)" font-size="10" fill="#000" stroke="#000" stroke-width="0.12">MACD(12,26,9) 0.004782 0.004059</text>
<text transform="translate(1599 699.2) scale(0.93 1)" font-size="9.8" fill="#000" stroke="#000" stroke-width="0.12">0.009478</text>
<text transform="translate(1599 747.9) scale(0.93 1)" font-size="9.8" fill="#000" stroke="#000" stroke-width="0.12">0.00</text>
<text transform="translate(1599 786.5) scale(0.93 1)" font-size="9.8" fill="#000" stroke="#000" stroke-width="0.12">-0.007778</text>
<rect x="1596" y="744" width="2" height="1" fill="#000"/>
<rect x="1596" y="585" width="2" height="1" fill="#000"/>
<rect x="1596" y="689" width="2" height="1" fill="#000"/>
<rect x="1596" y="788" width="2" height="1" fill="#000"/>
<rect x="3" y="790" width="1" height="3" fill="#000"/>
<text transform="translate(2.5 802) scale(0.93 1)" font-size="9.8" fill="#000" stroke="#000" stroke-width="0.12">5 Nov 2020</text>
<rect x="67" y="790" width="1" height="3" fill="#000"/>
<text transform="translate(66.5 802) scale(0.93 1)" font-size="9.8" fill="#000" stroke="#000" stroke-width="0.12">14 Nov 2020</text>
<rect x="131" y="790" width="1" height="3" fill="#000"/>
<text transform="translate(130.5 802) scale(0.93 1)" font-size="9.8" fill="#000" stroke="#000" stroke-width="0.12">24 Nov 2020</text>
<rect x="195" y="790" width="1" height="3" fill="#000"/>
<text transform="translate(194.5 802) scale(0.93 1)" font-size="9.8" fill="#000" stroke="#000" stroke-width="0.12">3 Dec 2020</text>
<rect x="259" y="790" width="1" height="3" fill="#000"/>
<text transform="translate(258.5 802) scale(0.93 1)" font-size="9.8" fill="#000" stroke="#000" stroke-width="0.12">12 Dec 2020</text>
<rect x="323" y="790" width="1" height="3" fill="#000"/>
<text transform="translate(322.5 802) scale(0.93 1)" font-size="9.8" fill="#000" stroke="#000" stroke-width="0.12">22 Dec 2020</text>
<rect x="387" y="790" width="1" height="3" fill="#000"/>
<text transform="translate(386.5 802) scale(0.93 1)" font-size="9.8" fill="#000" stroke="#000" stroke-width="0.12">1 Jan 2021</text>
<rect x="451" y="790" width="1" height="3" fill="#000"/>
<text transform="translate(450.5 802) scale(0.93 1)" font-size="9.8" fill="#000" stroke="#000" stroke-width="0.12">12 Jan 2021</text>
<rect x="515" y="790" width="1" height="3" fill="#000"/>
<text transform="translate(514.5 802) scale(0.93 1)" font-size="9.8" fill="#000" stroke="#000" stroke-width="0.12">21 Jan 2021</text>
<rect x="579" y="790" width="1" height="3" fill="#000"/>
<text transform="translate(578.5 802) scale(0.93 1)" font-size="9.8" fill="#000" stroke="#000" stroke-width="0.12">30 Jan 2021</text>
<rect x="643" y="790" width="1" height="3" fill="#000"/>
<text transform="translate(642.5 802) scale(0.93 1)" font-size="9.8" fill="#000" stroke="#000" stroke-width="0.12">9 Feb 2021</text>
<rect x="707" y="790" width="1" height="3" fill="#000"/>
<text transform="translate(706.5 802) scale(0.93 1)" font-size="9.8" fill="#000" stroke="#000" stroke-width="0.12">18 Feb 2021</text>
<rect x="771" y="790" width="1" height="3" fill="#000"/>
<text transform="translate(770.5 802) scale(0.93 1)" font-size="9.8" fill="#000" stroke="#000" stroke-width="0.12">27 Feb 2021</text>
<rect x="835" y="790" width="1" height="3" fill="#000"/>
<text transform="translate(834.5 802) scale(0.93 1)" font-size="9.8" fill="#000" stroke="#000" stroke-width="0.12">9 Mar 2021</text>
<rect x="899" y="790" width="1" height="3" fill="#000"/>
<text transform="translate(898.5 802) scale(0.93 1)" font-size="9.8" fill="#000" stroke="#000" stroke-width="0.12">18 Mar 2021</text>
<rect x="963" y="790" width="1" height="3" fill="#000"/>
<text transform="translate(962.5 802) scale(0.93 1)" font-size="9.8" fill="#000" stroke="#000" stroke-width="0.12">27 Mar 2021</text>
<rect x="1027" y="790" width="1" height="3" fill="#000"/>
<text transform="translate(1026.5 802) scale(0.93 1)" font-size="9.8" fill="#000" stroke="#000" stroke-width="0.12">6 Apr 2021</text>
<rect x="1091" y="790" width="1" height="3" fill="#000"/>
<text transform="translate(1090.5 802) scale(0.93 1)" font-size="9.8" fill="#000" stroke="#000" stroke-width="0.12">15 Apr 2021</text>
<rect x="1155" y="790" width="1" height="3" fill="#000"/>
<text transform="translate(1154.5 802) scale(0.93 1)" font-size="9.8" fill="#000" stroke="#000" stroke-width="0.12">24 Apr 2021</text>
<rect x="1219" y="790" width="1" height="3" fill="#000"/>
<text transform="translate(1218.5 802) scale(0.93 1)" font-size="9.8" fill="#000" stroke="#000" stroke-width="0.12">4 May 2021</text>
<rect x="0" y="810" width="1639" height="1" fill="#e3e3e3"/>
<rect x="0" y="811" width="1639" height="28" fill="#f0f0f0"/>
<rect x="0" y="812" width="1639" height="1" fill="#000"/>
<rect x="0" y="832" width="1639" height="1" fill="#f8f8f8"/>
<rect x="0" y="836" width="1639" height="1" fill="#a0a0a0"/>
<rect x="0" y="837" width="1639" height="2" fill="#f0f0f0"/>
<rect x="4" y="812" width="104" height="19" fill="#ffffff"/>
<rect x="4" y="812" width="1" height="19" fill="#000"/>
<rect x="107" y="812" width="1" height="19" fill="#000"/>
<rect x="4" y="830" width="104" height="1" fill="#000"/>
<rect x="4" y="812" width="104" height="1" fill="#ffffff"/>
<text x="17" y="827" font-size="12" fill="#000">EURUSD,Daily</text>
<text x="117.5" y="827" font-size="12" fill="#6d6d6d">USDCHF,Daily</text>
<text x="218" y="827" font-size="12" fill="#6d6d6d">AUDUSD,Daily</text>
<text x="322" y="827" font-size="12" fill="#6d6d6d">USDCAD,Daily</text>
<text x="425.4" y="827" font-size="12" fill="#6d6d6d">USDCNH,Daily</text>
<text x="531.5" y="827" font-size="12" fill="#6d6d6d">EURUSD,Daily</text>
<text x="635.3" y="827" font-size="12" fill="#6d6d6d">GBPUSD,Daily</text>
<text x="738.6" y="827" font-size="12" fill="#6d6d6d">XAUUSD,H4</text>
<text x="831.5" y="827" font-size="12" fill="#6d6d6d">HK50,M15</text>
<text x="914.6" y="827" font-size="12" fill="#6d6d6d">UK100,H1</text>
<text x="994.5" y="827" font-size="12" fill="#6d6d6d">UK100,H1</text>
<text x="1074.2" y="827" font-size="12" fill="#6d6d6d">GER30,H1</text>
<text x="1153.7" y="827" font-size="12" fill="#6d6d6d">FRA40,H1</text>
<text x="1229.2" y="827" font-size="12" fill="#6d6d6d">USOil,H1</text>
<text x="1301.4" y="827" font-size="12" fill="#6d6d6d">USDJPY,H1</text>
<text x="1386.5" y="827" font-size="12" fill="#6d6d6d">DJ30,Weekly</text>
<text x="1481.7" y="827" font-size="12" fill="#6d6d6d">CHINA300,H1</text>
<text x="1581.7" y="827" font-size="12" fill="#6d6d6d">USC</text>
<rect x="208" y="815" width="1" height="14" fill="#6d6d6d"/>
<rect x="312" y="815" width="1" height="14" fill="#6d6d6d"/>
<rect x="416" y="815" width="1" height="14" fill="#6d6d6d"/>
<rect x="520" y="815" width="1" height="14" fill="#6d6d6d"/>
<rect x="624" y="815" width="1" height="14" fill="#6d6d6d"/>
<rect x="728" y="815" width="1" height="14" fill="#6d6d6d"/>
<rect x="820" y="815" width="1" height="14" fill="#6d6d6d"/>
<rect x="904" y="815" width="1" height="14" fill="#6d6d6d"/>
<rect x="984" y="815" width="1" height="14" fill="#6d6d6d"/>
<rect x="1064" y="815" width="1" height="14" fill="#6d6d6d"/>
<rect x="1144" y="815" width="1" height="14" fill="#6d6d6d"/>
<rect x="1220" y="815" width="1" height="14" fill="#6d6d6d"/>
<rect x="1292" y="815" width="1" height="14" fill="#6d6d6d"/>
<rect x="1376" y="815" width="1" height="14" fill="#6d6d6d"/>
<rect x="1472" y="815" width="1" height="14" fill="#6d6d6d"/>
<rect x="1572" y="815" width="1" height="14" fill="#6d6d6d"/>
<rect x="1607" y="813" width="32" height="19" fill="#f0f0f0"/>
<path d="M1614 818 L1614 825 L1610.5 821.5 Z" fill="#a0a0a0" shape-rendering="auto"/>
<path d="M1630 818 L1630 825 L1633.5 821.5 Z" fill="#000" shape-rendering="auto"/>
</svg></body></html>
